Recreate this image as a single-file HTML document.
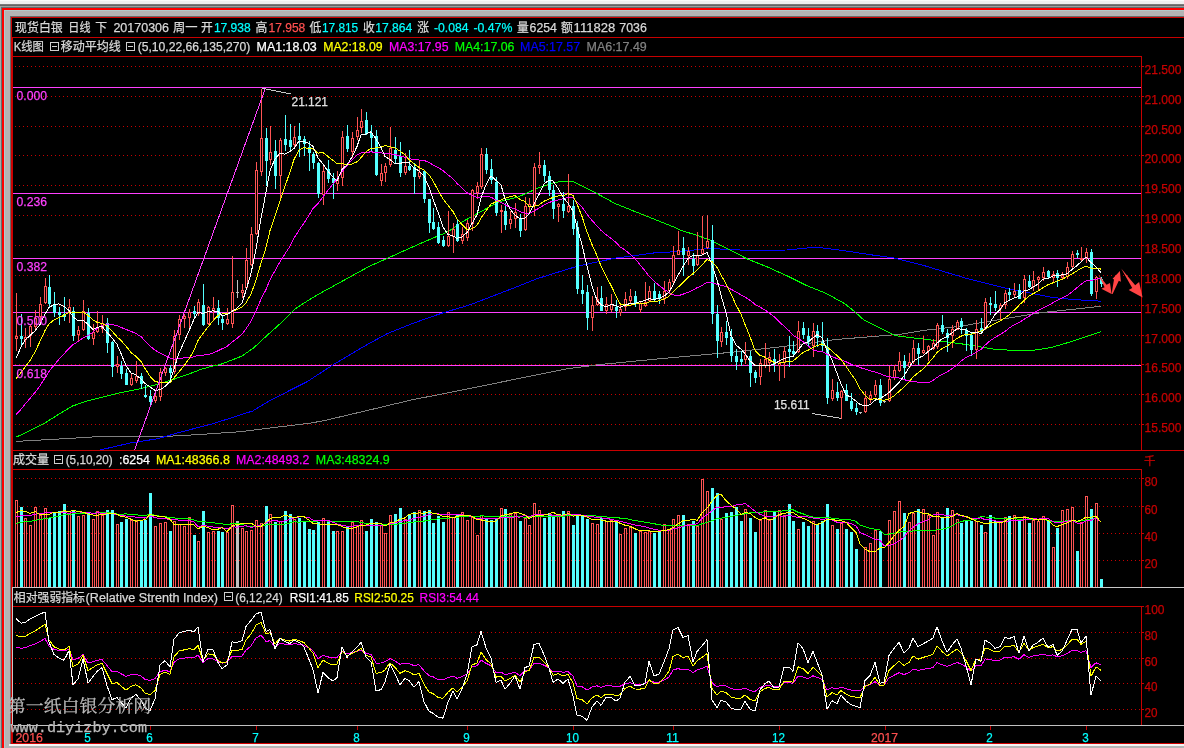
<!DOCTYPE html>
<html><head><meta charset="utf-8"><title>现货白银 日线</title>
<style>html,body{margin:0;padding:0;background:#000;width:1184px;height:748px;overflow:hidden}svg{display:block}</style>
</head><body>
<svg width="1184" height="748" viewBox="0 0 1184 748"><rect x="0" y="0" width="1184" height="748" fill="#000"/>
<rect x="0" y="0" width="1184" height="4" fill="#f0f0f0"/>
<rect x="0" y="0" width="1184" height="1" fill="#fafafa"/>
<rect x="0" y="4" width="1184" height="1" fill="#7a7a7a"/>
<rect x="0" y="5" width="1184" height="1" fill="#666666"/>
<rect x="0" y="6" width="1184" height="1" fill="#a0a0a0"/>
<rect x="0" y="7" width="1184" height="1" fill="#5e7070"/>
<rect x="0" y="8" width="1184" height="2" fill="#ff0000"/>
<rect x="0" y="10" width="1184" height="1" fill="#b2caca"/>
<rect x="0" y="11" width="1184" height="5" fill="#b4b4b4"/>
<rect x="0" y="16" width="1184" height="1" fill="#6a6a6a"/>
<rect x="0" y="17" width="1184" height="1" fill="#d00000"/>
<rect x="0" y="6" width="1" height="742" fill="#a8a8a8"/>
<rect x="1" y="7" width="1" height="741" fill="#5e7070"/>
<rect x="2" y="8" width="2" height="740" fill="#ff0000"/>
<rect x="4" y="10" width="1" height="738" fill="#b2caca"/>
<rect x="5" y="11" width="5" height="737" fill="#b4b4b4"/>
<rect x="10" y="16" width="1" height="732" fill="#6a6a6a"/>
<rect x="11" y="17" width="1" height="731" fill="#d00000"/>
<rect x="11" y="743" width="1173" height="1" fill="#d00000"/>
<rect x="9" y="744" width="1175" height="2" fill="#f4f4f4"/>
<rect x="9" y="746" width="1175" height="2" fill="#b4b4b4"/>
<rect x="12" y="37" width="1172" height="1" fill="#c80000"/>
<rect x="12" y="37" width="1" height="550" fill="#c80000"/>
<rect x="12" y="56" width="1130" height="1" fill="#c80000"/>
<rect x="12" y="450" width="1172" height="1" fill="#c80000"/>
<rect x="12" y="469" width="1130" height="1" fill="#c80000"/>
<rect x="1141" y="56" width="1" height="394" fill="#c80000"/>
<rect x="1141" y="469" width="1" height="118" fill="#c80000"/>
<rect x="12" y="587" width="1172" height="1" fill="#c8c8c8"/>
<rect x="12" y="587" width="1" height="138" fill="#c8c8c8"/>
<rect x="13" y="606" width="1129" height="1" fill="#c80000"/>
<rect x="1141" y="606" width="1" height="119" fill="#c80000"/>
<rect x="12" y="725" width="1172" height="1" fill="#c0c0c0"/>
<rect x="12" y="725" width="1" height="18" fill="#c80000"/>
<line x1="15" y1="66.5" x2="1141" y2="66.5" stroke="#c80000" stroke-width="1" stroke-dasharray="1 3"/>
<rect x="1142" y="66" width="2" height="1" fill="#c80000"/>
<text x="1144.5" y="73.5" fill="#c80000" stroke="#c80000" stroke-width="0.25" font-size="12.5" font-family="'Liberation Sans','Noto Sans CJK SC',sans-serif" textLength="37" lengthAdjust="spacingAndGlyphs">21.500</text>
<line x1="15" y1="96.5" x2="1141" y2="96.5" stroke="#c80000" stroke-width="1" stroke-dasharray="1 3"/>
<rect x="1142" y="96" width="2" height="1" fill="#c80000"/>
<text x="1144.5" y="103.5" fill="#c80000" stroke="#c80000" stroke-width="0.25" font-size="12.5" font-family="'Liberation Sans','Noto Sans CJK SC',sans-serif" textLength="37" lengthAdjust="spacingAndGlyphs">21.000</text>
<line x1="15" y1="126.5" x2="1141" y2="126.5" stroke="#c80000" stroke-width="1" stroke-dasharray="1 3"/>
<rect x="1142" y="126" width="2" height="1" fill="#c80000"/>
<text x="1144.5" y="133.5" fill="#c80000" stroke="#c80000" stroke-width="0.25" font-size="12.5" font-family="'Liberation Sans','Noto Sans CJK SC',sans-serif" textLength="37" lengthAdjust="spacingAndGlyphs">20.500</text>
<line x1="15" y1="155.5" x2="1141" y2="155.5" stroke="#c80000" stroke-width="1" stroke-dasharray="1 3"/>
<rect x="1142" y="155" width="2" height="1" fill="#c80000"/>
<text x="1144.5" y="162.5" fill="#c80000" stroke="#c80000" stroke-width="0.25" font-size="12.5" font-family="'Liberation Sans','Noto Sans CJK SC',sans-serif" textLength="37" lengthAdjust="spacingAndGlyphs">20.000</text>
<line x1="15" y1="185.5" x2="1141" y2="185.5" stroke="#c80000" stroke-width="1" stroke-dasharray="1 3"/>
<rect x="1142" y="185" width="2" height="1" fill="#c80000"/>
<text x="1144.5" y="192.5" fill="#c80000" stroke="#c80000" stroke-width="0.25" font-size="12.5" font-family="'Liberation Sans','Noto Sans CJK SC',sans-serif" textLength="37" lengthAdjust="spacingAndGlyphs">19.500</text>
<line x1="15" y1="215.5" x2="1141" y2="215.5" stroke="#c80000" stroke-width="1" stroke-dasharray="1 3"/>
<rect x="1142" y="215" width="2" height="1" fill="#c80000"/>
<text x="1144.5" y="222.5" fill="#c80000" stroke="#c80000" stroke-width="0.25" font-size="12.5" font-family="'Liberation Sans','Noto Sans CJK SC',sans-serif" textLength="37" lengthAdjust="spacingAndGlyphs">19.000</text>
<line x1="15" y1="245.5" x2="1141" y2="245.5" stroke="#c80000" stroke-width="1" stroke-dasharray="1 3"/>
<rect x="1142" y="245" width="2" height="1" fill="#c80000"/>
<text x="1144.5" y="252.5" fill="#c80000" stroke="#c80000" stroke-width="0.25" font-size="12.5" font-family="'Liberation Sans','Noto Sans CJK SC',sans-serif" textLength="37" lengthAdjust="spacingAndGlyphs">18.500</text>
<line x1="15" y1="275.5" x2="1141" y2="275.5" stroke="#c80000" stroke-width="1" stroke-dasharray="1 3"/>
<rect x="1142" y="275" width="2" height="1" fill="#c80000"/>
<text x="1144.5" y="282.5" fill="#c80000" stroke="#c80000" stroke-width="0.25" font-size="12.5" font-family="'Liberation Sans','Noto Sans CJK SC',sans-serif" textLength="37" lengthAdjust="spacingAndGlyphs">18.000</text>
<line x1="15" y1="305.5" x2="1141" y2="305.5" stroke="#c80000" stroke-width="1" stroke-dasharray="1 3"/>
<rect x="1142" y="305" width="2" height="1" fill="#c80000"/>
<text x="1144.5" y="312.5" fill="#c80000" stroke="#c80000" stroke-width="0.25" font-size="12.5" font-family="'Liberation Sans','Noto Sans CJK SC',sans-serif" textLength="37" lengthAdjust="spacingAndGlyphs">17.500</text>
<line x1="15" y1="335.5" x2="1141" y2="335.5" stroke="#c80000" stroke-width="1" stroke-dasharray="1 3"/>
<rect x="1142" y="335" width="2" height="1" fill="#c80000"/>
<text x="1144.5" y="342.5" fill="#c80000" stroke="#c80000" stroke-width="0.25" font-size="12.5" font-family="'Liberation Sans','Noto Sans CJK SC',sans-serif" textLength="37" lengthAdjust="spacingAndGlyphs">17.000</text>
<line x1="15" y1="364.5" x2="1141" y2="364.5" stroke="#c80000" stroke-width="1" stroke-dasharray="1 3"/>
<rect x="1142" y="364" width="2" height="1" fill="#c80000"/>
<text x="1144.5" y="371.5" fill="#c80000" stroke="#c80000" stroke-width="0.25" font-size="12.5" font-family="'Liberation Sans','Noto Sans CJK SC',sans-serif" textLength="37" lengthAdjust="spacingAndGlyphs">16.500</text>
<line x1="15" y1="394.5" x2="1141" y2="394.5" stroke="#c80000" stroke-width="1" stroke-dasharray="1 3"/>
<rect x="1142" y="394" width="2" height="1" fill="#c80000"/>
<text x="1144.5" y="401.5" fill="#c80000" stroke="#c80000" stroke-width="0.25" font-size="12.5" font-family="'Liberation Sans','Noto Sans CJK SC',sans-serif" textLength="37" lengthAdjust="spacingAndGlyphs">16.000</text>
<line x1="15" y1="424.5" x2="1141" y2="424.5" stroke="#c80000" stroke-width="1" stroke-dasharray="1 3"/>
<rect x="1142" y="424" width="2" height="1" fill="#c80000"/>
<text x="1144.5" y="431.5" fill="#c80000" stroke="#c80000" stroke-width="0.25" font-size="12.5" font-family="'Liberation Sans','Noto Sans CJK SC',sans-serif" textLength="37" lengthAdjust="spacingAndGlyphs">15.500</text>
<line x1="15" y1="478.5" x2="1141" y2="478.5" stroke="#c80000" stroke-width="1" stroke-dasharray="1 3"/>
<rect x="1142" y="478" width="2" height="1" fill="#c80000"/>
<text x="1144.5" y="485.5" fill="#c80000" stroke="#c80000" stroke-width="0.25" font-size="12.5" font-family="'Liberation Sans','Noto Sans CJK SC',sans-serif" textLength="13" lengthAdjust="spacingAndGlyphs">80</text>
<line x1="15" y1="506.5" x2="1141" y2="506.5" stroke="#c80000" stroke-width="1" stroke-dasharray="1 3"/>
<rect x="1142" y="506" width="2" height="1" fill="#c80000"/>
<text x="1144.5" y="513.5" fill="#c80000" stroke="#c80000" stroke-width="0.25" font-size="12.5" font-family="'Liberation Sans','Noto Sans CJK SC',sans-serif" textLength="13" lengthAdjust="spacingAndGlyphs">60</text>
<line x1="15" y1="533.5" x2="1141" y2="533.5" stroke="#c80000" stroke-width="1" stroke-dasharray="1 3"/>
<rect x="1142" y="533" width="2" height="1" fill="#c80000"/>
<text x="1144.5" y="540.5" fill="#c80000" stroke="#c80000" stroke-width="0.25" font-size="12.5" font-family="'Liberation Sans','Noto Sans CJK SC',sans-serif" textLength="13" lengthAdjust="spacingAndGlyphs">40</text>
<line x1="15" y1="560.5" x2="1141" y2="560.5" stroke="#c80000" stroke-width="1" stroke-dasharray="1 3"/>
<rect x="1142" y="560" width="2" height="1" fill="#c80000"/>
<text x="1144.5" y="567.5" fill="#c80000" stroke="#c80000" stroke-width="0.25" font-size="12.5" font-family="'Liberation Sans','Noto Sans CJK SC',sans-serif" textLength="13" lengthAdjust="spacingAndGlyphs">20</text>
<text x="1144" y="465" fill="#c80000" stroke="#c80000" stroke-width="0.25" font-size="11.5" font-family="'Noto Sans CJK SC','Liberation Sans',sans-serif">千</text>
<line x1="15" y1="632.5" x2="1141" y2="632.5" stroke="#c80000" stroke-width="1" stroke-dasharray="1 3"/>
<rect x="1142" y="632" width="2" height="1" fill="#c80000"/>
<text x="1144.5" y="639.5" fill="#c80000" stroke="#c80000" stroke-width="0.25" font-size="12.5" font-family="'Liberation Sans','Noto Sans CJK SC',sans-serif" textLength="13" lengthAdjust="spacingAndGlyphs">80</text>
<line x1="15" y1="658.5" x2="1141" y2="658.5" stroke="#c80000" stroke-width="1" stroke-dasharray="1 3"/>
<rect x="1142" y="658" width="2" height="1" fill="#c80000"/>
<text x="1144.5" y="665.5" fill="#c80000" stroke="#c80000" stroke-width="0.25" font-size="12.5" font-family="'Liberation Sans','Noto Sans CJK SC',sans-serif" textLength="13" lengthAdjust="spacingAndGlyphs">60</text>
<line x1="15" y1="683.5" x2="1141" y2="683.5" stroke="#c80000" stroke-width="1" stroke-dasharray="1 3"/>
<rect x="1142" y="683" width="2" height="1" fill="#c80000"/>
<text x="1144.5" y="690.5" fill="#c80000" stroke="#c80000" stroke-width="0.25" font-size="12.5" font-family="'Liberation Sans','Noto Sans CJK SC',sans-serif" textLength="13" lengthAdjust="spacingAndGlyphs">40</text>
<line x1="15" y1="709.5" x2="1141" y2="709.5" stroke="#c80000" stroke-width="1" stroke-dasharray="1 3"/>
<rect x="1142" y="709" width="2" height="1" fill="#c80000"/>
<text x="1144.5" y="716.5" fill="#c80000" stroke="#c80000" stroke-width="0.25" font-size="12.5" font-family="'Liberation Sans','Noto Sans CJK SC',sans-serif" textLength="13" lengthAdjust="spacingAndGlyphs">20</text>
<rect x="1142" y="606" width="2" height="1" fill="#c80000"/>
<text x="1144.5" y="613.5" fill="#c80000" stroke="#c80000" stroke-width="0.25" font-size="12.5" font-family="'Liberation Sans','Noto Sans CJK SC',sans-serif" textLength="20" lengthAdjust="spacingAndGlyphs">100</text>
<rect x="13" y="87" width="1128" height="1" fill="#ff40ff"/>
<rect x="13" y="193" width="1128" height="1" fill="#ff40ff"/>
<rect x="13" y="258" width="1128" height="1" fill="#ff40ff"/>
<rect x="13" y="312" width="1128" height="1" fill="#ff40ff"/>
<rect x="13" y="365" width="1128" height="1" fill="#ff40ff"/>
<g shape-rendering="crispEdges">
<polyline points="16.2,441.4 62.7,438.8 100.0,436.5 164.0,436.5 200.0,434.5 240.0,431.7 312.0,422.9 326.7,420.0 366.8,410.6 411.2,400.0 470.0,388.5 500.5,382.2 567.3,368.8 600.0,364.5 666.8,358.1 733.6,352.1 796.3,345.0 835.0,339.6 900.0,334.3 922.8,330.5 960.0,326.3 1000.0,319.5 1040.0,312.8 1101.0,306.3" fill="none" stroke="#808080" stroke-width="1"/>
<polyline points="99.8,450.0 130.2,443.0 157.3,438.8 180.9,432.0 212.0,424.0 252.7,411.0 270.8,400.0 306.9,381.8 333.7,364.4 360.4,348.4 387.1,333.7 413.8,323.0 440.6,313.6 470.0,304.8 508.6,290.0 537.7,278.5 576.6,266.4 615.4,258.1 654.3,252.9 680.0,251.4 709.1,248.5 747.8,250.4 786.6,250.0 815.7,247.1 844.8,250.8 873.8,255.2 893.2,257.8 922.8,265.2 944.2,271.7 965.6,278.1 987.0,283.4 1008.3,288.8 1029.7,293.0 1051.1,297.3 1072.5,299.5 1101.0,301.2" fill="none" stroke="#0000ff" stroke-width="1"/>
<polyline points="16.2,437.1 28.9,431.2 45.8,422.4 62.7,411.8 72.8,405.9 88.0,400.8 104.9,396.6 121.8,392.4 138.7,389.0 155.6,384.8 172.5,379.7 189.4,373.8 200.0,369.7 212.0,366.2 220.0,364.6 241.7,356.2 253.7,347.8 268.1,334.5 282.6,321.5 294.6,309.3 306.6,301.4 320.0,293.4 341.7,281.5 368.4,266.8 395.1,254.8 421.9,242.8 448.6,231.5 460.0,223.1 479.4,212.4 498.9,201.8 518.3,196.9 537.7,188.2 553.2,182.9 561.0,181.4 572.7,181.4 576.6,183.3 596.0,193.0 615.4,203.7 634.8,211.5 654.3,219.2 673.7,227.0 680.0,230.0 695.5,234.9 711.0,240.3 728.5,249.4 747.8,259.1 767.2,266.9 786.6,275.6 806.0,285.3 825.4,293.0 844.8,303.7 854.5,311.5 864.1,320.2 883.5,329.9 895.2,335.7 922.8,339.0 965.6,344.4 997.6,349.7 1029.7,350.8 1051.1,347.6 1072.5,341.2 1101.0,331.6" fill="none" stroke="#00ff00" stroke-width="1"/>
</g>
<g shape-rendering="crispEdges">
<rect x="16" y="293" width="1" height="43" fill="#ff5454"/>
<rect x="16" y="339" width="1" height="12" fill="#ff5454"/>
<rect x="15" y="336" width="3" height="3" fill="#ff5454"/>
<rect x="16" y="337" width="1" height="1" fill="#000"/>
<rect x="21" y="314" width="1" height="22" fill="#54ffff"/>
<rect x="21" y="339" width="1" height="6" fill="#54ffff"/>
<rect x="20" y="336" width="3" height="3" fill="#54ffff"/>
<rect x="25" y="328" width="1" height="9" fill="#ff5454"/>
<rect x="25" y="340" width="1" height="8" fill="#ff5454"/>
<rect x="24" y="337" width="3" height="3" fill="#ff5454"/>
<rect x="25" y="338" width="1" height="1" fill="#000"/>
<rect x="30" y="324" width="1" height="2" fill="#ff5454"/>
<rect x="30" y="336" width="1" height="11" fill="#ff5454"/>
<rect x="29" y="326" width="3" height="10" fill="#ff5454"/>
<rect x="30" y="327" width="1" height="8" fill="#000"/>
<rect x="35" y="310" width="1" height="8" fill="#ff5454"/>
<rect x="35" y="327" width="1" height="4" fill="#ff5454"/>
<rect x="34" y="318" width="3" height="9" fill="#ff5454"/>
<rect x="35" y="319" width="1" height="7" fill="#000"/>
<rect x="40" y="297" width="1" height="7" fill="#ff5454"/>
<rect x="40" y="317" width="1" height="7" fill="#ff5454"/>
<rect x="39" y="304" width="3" height="13" fill="#ff5454"/>
<rect x="40" y="305" width="1" height="11" fill="#000"/>
<rect x="45" y="278" width="1" height="8" fill="#ff5454"/>
<rect x="45" y="303" width="1" height="1" fill="#ff5454"/>
<rect x="44" y="286" width="3" height="17" fill="#ff5454"/>
<rect x="45" y="287" width="1" height="15" fill="#000"/>
<rect x="49" y="275" width="1" height="12" fill="#54ffff"/>
<rect x="49" y="304" width="1" height="3" fill="#54ffff"/>
<rect x="48" y="287" width="3" height="17" fill="#54ffff"/>
<rect x="54" y="292" width="1" height="12" fill="#54ffff"/>
<rect x="54" y="313" width="1" height="4" fill="#54ffff"/>
<rect x="53" y="304" width="3" height="9" fill="#54ffff"/>
<rect x="59" y="307" width="1" height="5" fill="#54ffff"/>
<rect x="59" y="315" width="1" height="10" fill="#54ffff"/>
<rect x="58" y="312" width="3" height="3" fill="#54ffff"/>
<rect x="64" y="297" width="1" height="17" fill="#54ffff"/>
<rect x="64" y="317" width="1" height="4" fill="#54ffff"/>
<rect x="63" y="314" width="3" height="3" fill="#54ffff"/>
<rect x="69" y="299" width="1" height="8" fill="#ff5454"/>
<rect x="69" y="313" width="1" height="10" fill="#ff5454"/>
<rect x="68" y="307" width="3" height="6" fill="#ff5454"/>
<rect x="69" y="308" width="1" height="4" fill="#000"/>
<rect x="73" y="307" width="1" height="4" fill="#54ffff"/>
<rect x="73" y="336" width="1" height="5" fill="#54ffff"/>
<rect x="72" y="311" width="3" height="25" fill="#54ffff"/>
<rect x="78" y="326" width="1" height="4" fill="#ff5454"/>
<rect x="78" y="335" width="1" height="7" fill="#ff5454"/>
<rect x="77" y="330" width="3" height="5" fill="#ff5454"/>
<rect x="78" y="331" width="1" height="3" fill="#000"/>
<rect x="83" y="300" width="1" height="11" fill="#ff5454"/>
<rect x="83" y="330" width="1" height="1" fill="#ff5454"/>
<rect x="82" y="311" width="3" height="19" fill="#ff5454"/>
<rect x="83" y="312" width="1" height="17" fill="#000"/>
<rect x="88" y="308" width="1" height="5" fill="#54ffff"/>
<rect x="88" y="339" width="1" height="1" fill="#54ffff"/>
<rect x="87" y="313" width="3" height="26" fill="#54ffff"/>
<rect x="93" y="324" width="1" height="8" fill="#ff5454"/>
<rect x="93" y="339" width="1" height="6" fill="#ff5454"/>
<rect x="92" y="332" width="3" height="7" fill="#ff5454"/>
<rect x="93" y="333" width="1" height="5" fill="#000"/>
<rect x="97" y="311" width="1" height="16" fill="#ff5454"/>
<rect x="97" y="332" width="1" height="1" fill="#ff5454"/>
<rect x="96" y="327" width="3" height="5" fill="#ff5454"/>
<rect x="97" y="328" width="1" height="3" fill="#000"/>
<rect x="102" y="315" width="1" height="8" fill="#ff5454"/>
<rect x="102" y="329" width="1" height="4" fill="#ff5454"/>
<rect x="101" y="323" width="3" height="6" fill="#ff5454"/>
<rect x="102" y="324" width="1" height="4" fill="#000"/>
<rect x="107" y="318" width="1" height="5" fill="#54ffff"/>
<rect x="107" y="343" width="1" height="10" fill="#54ffff"/>
<rect x="106" y="323" width="3" height="20" fill="#54ffff"/>
<rect x="112" y="341" width="1" height="1" fill="#54ffff"/>
<rect x="112" y="367" width="1" height="10" fill="#54ffff"/>
<rect x="111" y="342" width="3" height="25" fill="#54ffff"/>
<rect x="117" y="356" width="1" height="8" fill="#ff5454"/>
<rect x="117" y="367" width="1" height="6" fill="#ff5454"/>
<rect x="116" y="364" width="3" height="3" fill="#ff5454"/>
<rect x="117" y="365" width="1" height="1" fill="#000"/>
<rect x="121" y="361" width="1" height="5" fill="#54ffff"/>
<rect x="121" y="374" width="1" height="5" fill="#54ffff"/>
<rect x="120" y="366" width="3" height="8" fill="#54ffff"/>
<rect x="126" y="369" width="1" height="4" fill="#54ffff"/>
<rect x="125" y="373" width="3" height="12" fill="#54ffff"/>
<rect x="131" y="374" width="1" height="4" fill="#ff5454"/>
<rect x="131" y="385" width="1" height="1" fill="#ff5454"/>
<rect x="130" y="378" width="3" height="7" fill="#ff5454"/>
<rect x="131" y="379" width="1" height="5" fill="#000"/>
<rect x="136" y="361" width="1" height="15" fill="#ff5454"/>
<rect x="136" y="381" width="1" height="2" fill="#ff5454"/>
<rect x="135" y="376" width="3" height="5" fill="#ff5454"/>
<rect x="136" y="377" width="1" height="3" fill="#000"/>
<rect x="141" y="373" width="1" height="3" fill="#54ffff"/>
<rect x="141" y="384" width="1" height="5" fill="#54ffff"/>
<rect x="140" y="376" width="3" height="8" fill="#54ffff"/>
<rect x="145" y="385" width="1" height="10" fill="#54ffff"/>
<rect x="145" y="397" width="1" height="1" fill="#54ffff"/>
<rect x="144" y="395" width="3" height="2" fill="#54ffff"/>
<rect x="150" y="390" width="1" height="6" fill="#54ffff"/>
<rect x="150" y="402" width="1" height="4" fill="#54ffff"/>
<rect x="149" y="396" width="3" height="6" fill="#54ffff"/>
<rect x="155" y="394" width="1" height="2" fill="#ff5454"/>
<rect x="155" y="401" width="1" height="2" fill="#ff5454"/>
<rect x="154" y="396" width="3" height="5" fill="#ff5454"/>
<rect x="155" y="397" width="1" height="3" fill="#000"/>
<rect x="160" y="368" width="1" height="4" fill="#ff5454"/>
<rect x="160" y="397" width="1" height="4" fill="#ff5454"/>
<rect x="159" y="372" width="3" height="25" fill="#ff5454"/>
<rect x="160" y="373" width="1" height="23" fill="#000"/>
<rect x="165" y="367" width="1" height="1" fill="#ff5454"/>
<rect x="165" y="373" width="1" height="3" fill="#ff5454"/>
<rect x="164" y="368" width="3" height="5" fill="#ff5454"/>
<rect x="165" y="369" width="1" height="3" fill="#000"/>
<rect x="170" y="365" width="1" height="3" fill="#54ffff"/>
<rect x="170" y="373" width="1" height="9" fill="#54ffff"/>
<rect x="169" y="368" width="3" height="5" fill="#54ffff"/>
<rect x="174" y="330" width="1" height="6" fill="#ff5454"/>
<rect x="174" y="372" width="1" height="2" fill="#ff5454"/>
<rect x="173" y="336" width="3" height="36" fill="#ff5454"/>
<rect x="174" y="337" width="1" height="34" fill="#000"/>
<rect x="179" y="315" width="1" height="4" fill="#ff5454"/>
<rect x="179" y="335" width="1" height="5" fill="#ff5454"/>
<rect x="178" y="319" width="3" height="16" fill="#ff5454"/>
<rect x="179" y="320" width="1" height="14" fill="#000"/>
<rect x="184" y="314" width="1" height="2" fill="#ff5454"/>
<rect x="184" y="319" width="1" height="9" fill="#ff5454"/>
<rect x="183" y="316" width="3" height="3" fill="#ff5454"/>
<rect x="184" y="317" width="1" height="1" fill="#000"/>
<rect x="189" y="309" width="1" height="3" fill="#ff5454"/>
<rect x="189" y="318" width="1" height="10" fill="#ff5454"/>
<rect x="188" y="312" width="3" height="6" fill="#ff5454"/>
<rect x="189" y="313" width="1" height="4" fill="#000"/>
<rect x="194" y="306" width="1" height="5" fill="#54ffff"/>
<rect x="194" y="314" width="1" height="5" fill="#54ffff"/>
<rect x="193" y="311" width="3" height="3" fill="#54ffff"/>
<rect x="198" y="299" width="1" height="3" fill="#ff5454"/>
<rect x="198" y="314" width="1" height="2" fill="#ff5454"/>
<rect x="197" y="302" width="3" height="12" fill="#ff5454"/>
<rect x="198" y="303" width="1" height="10" fill="#000"/>
<rect x="203" y="284" width="1" height="21" fill="#54ffff"/>
<rect x="203" y="325" width="1" height="1" fill="#54ffff"/>
<rect x="202" y="305" width="3" height="20" fill="#54ffff"/>
<rect x="208" y="306" width="1" height="1" fill="#ff5454"/>
<rect x="208" y="324" width="1" height="1" fill="#ff5454"/>
<rect x="207" y="307" width="3" height="17" fill="#ff5454"/>
<rect x="208" y="308" width="1" height="15" fill="#000"/>
<rect x="213" y="297" width="1" height="11" fill="#ff5454"/>
<rect x="213" y="311" width="1" height="9" fill="#ff5454"/>
<rect x="212" y="308" width="3" height="3" fill="#ff5454"/>
<rect x="213" y="309" width="1" height="1" fill="#000"/>
<rect x="218" y="300" width="1" height="8" fill="#54ffff"/>
<rect x="218" y="318" width="1" height="7" fill="#54ffff"/>
<rect x="217" y="308" width="3" height="10" fill="#54ffff"/>
<rect x="222" y="315" width="1" height="4" fill="#54ffff"/>
<rect x="222" y="323" width="1" height="7" fill="#54ffff"/>
<rect x="221" y="319" width="3" height="4" fill="#54ffff"/>
<rect x="227" y="308" width="1" height="11" fill="#ff5454"/>
<rect x="227" y="324" width="1" height="1" fill="#ff5454"/>
<rect x="226" y="319" width="3" height="5" fill="#ff5454"/>
<rect x="227" y="320" width="1" height="3" fill="#000"/>
<rect x="232" y="256" width="1" height="36" fill="#ff5454"/>
<rect x="232" y="324" width="1" height="4" fill="#ff5454"/>
<rect x="231" y="292" width="3" height="32" fill="#ff5454"/>
<rect x="232" y="293" width="1" height="30" fill="#000"/>
<rect x="237" y="280" width="1" height="12" fill="#c0c0c0"/>
<rect x="237" y="293" width="1" height="5" fill="#c0c0c0"/>
<rect x="236" y="292" width="3" height="1" fill="#c0c0c0"/>
<rect x="237" y="280" width="1" height="18" fill="#c0c0c0"/>
<rect x="242" y="284" width="1" height="6" fill="#ff5454"/>
<rect x="242" y="293" width="1" height="5" fill="#ff5454"/>
<rect x="241" y="290" width="3" height="3" fill="#ff5454"/>
<rect x="242" y="291" width="1" height="1" fill="#000"/>
<rect x="246" y="248" width="1" height="12" fill="#ff5454"/>
<rect x="246" y="288" width="1" height="1" fill="#ff5454"/>
<rect x="245" y="260" width="3" height="28" fill="#ff5454"/>
<rect x="246" y="261" width="1" height="26" fill="#000"/>
<rect x="251" y="227" width="1" height="7" fill="#ff5454"/>
<rect x="251" y="265" width="1" height="1" fill="#ff5454"/>
<rect x="250" y="234" width="3" height="31" fill="#ff5454"/>
<rect x="251" y="235" width="1" height="29" fill="#000"/>
<rect x="256" y="162" width="1" height="8" fill="#ff5454"/>
<rect x="256" y="234" width="1" height="1" fill="#ff5454"/>
<rect x="255" y="170" width="3" height="64" fill="#ff5454"/>
<rect x="256" y="171" width="1" height="62" fill="#000"/>
<rect x="261" y="89" width="1" height="49" fill="#ff5454"/>
<rect x="261" y="172" width="1" height="4" fill="#ff5454"/>
<rect x="260" y="138" width="3" height="34" fill="#ff5454"/>
<rect x="261" y="139" width="1" height="32" fill="#000"/>
<rect x="266" y="128" width="1" height="10" fill="#54ffff"/>
<rect x="266" y="161" width="1" height="25" fill="#54ffff"/>
<rect x="265" y="138" width="3" height="23" fill="#54ffff"/>
<rect x="270" y="126" width="1" height="26" fill="#ff5454"/>
<rect x="270" y="160" width="1" height="5" fill="#ff5454"/>
<rect x="269" y="152" width="3" height="8" fill="#ff5454"/>
<rect x="270" y="153" width="1" height="6" fill="#000"/>
<rect x="275" y="140" width="1" height="11" fill="#54ffff"/>
<rect x="275" y="176" width="1" height="13" fill="#54ffff"/>
<rect x="274" y="151" width="3" height="25" fill="#54ffff"/>
<rect x="280" y="138" width="1" height="2" fill="#ff5454"/>
<rect x="280" y="176" width="1" height="25" fill="#ff5454"/>
<rect x="279" y="140" width="3" height="36" fill="#ff5454"/>
<rect x="280" y="141" width="1" height="34" fill="#000"/>
<rect x="285" y="115" width="1" height="24" fill="#54ffff"/>
<rect x="285" y="145" width="1" height="6" fill="#54ffff"/>
<rect x="284" y="139" width="3" height="6" fill="#54ffff"/>
<rect x="290" y="124" width="1" height="16" fill="#54ffff"/>
<rect x="290" y="147" width="1" height="5" fill="#54ffff"/>
<rect x="289" y="140" width="3" height="7" fill="#54ffff"/>
<rect x="294" y="126" width="1" height="11" fill="#ff5454"/>
<rect x="294" y="145" width="1" height="4" fill="#ff5454"/>
<rect x="293" y="137" width="3" height="8" fill="#ff5454"/>
<rect x="294" y="138" width="1" height="6" fill="#000"/>
<rect x="299" y="123" width="1" height="13" fill="#54ffff"/>
<rect x="299" y="140" width="1" height="17" fill="#54ffff"/>
<rect x="298" y="136" width="3" height="4" fill="#54ffff"/>
<rect x="304" y="136" width="1" height="3" fill="#54ffff"/>
<rect x="304" y="144" width="1" height="12" fill="#54ffff"/>
<rect x="303" y="139" width="3" height="5" fill="#54ffff"/>
<rect x="309" y="141" width="1" height="6" fill="#54ffff"/>
<rect x="309" y="153" width="1" height="18" fill="#54ffff"/>
<rect x="308" y="147" width="3" height="6" fill="#54ffff"/>
<rect x="313" y="152" width="1" height="2" fill="#54ffff"/>
<rect x="313" y="163" width="1" height="6" fill="#54ffff"/>
<rect x="312" y="154" width="3" height="9" fill="#54ffff"/>
<rect x="318" y="162" width="1" height="1" fill="#54ffff"/>
<rect x="318" y="194" width="1" height="4" fill="#54ffff"/>
<rect x="317" y="163" width="3" height="31" fill="#54ffff"/>
<rect x="323" y="165" width="1" height="6" fill="#ff5454"/>
<rect x="323" y="195" width="1" height="10" fill="#ff5454"/>
<rect x="322" y="171" width="3" height="24" fill="#ff5454"/>
<rect x="323" y="172" width="1" height="22" fill="#000"/>
<rect x="328" y="160" width="1" height="9" fill="#54ffff"/>
<rect x="328" y="179" width="1" height="4" fill="#54ffff"/>
<rect x="327" y="169" width="3" height="10" fill="#54ffff"/>
<rect x="333" y="173" width="1" height="5" fill="#54ffff"/>
<rect x="333" y="183" width="1" height="16" fill="#54ffff"/>
<rect x="332" y="178" width="3" height="5" fill="#54ffff"/>
<rect x="337" y="171" width="1" height="8" fill="#ff5454"/>
<rect x="337" y="184" width="1" height="7" fill="#ff5454"/>
<rect x="336" y="179" width="3" height="5" fill="#ff5454"/>
<rect x="337" y="180" width="1" height="3" fill="#000"/>
<rect x="342" y="131" width="1" height="6" fill="#ff5454"/>
<rect x="342" y="178" width="1" height="8" fill="#ff5454"/>
<rect x="341" y="137" width="3" height="41" fill="#ff5454"/>
<rect x="342" y="138" width="1" height="39" fill="#000"/>
<rect x="347" y="125" width="1" height="11" fill="#54ffff"/>
<rect x="347" y="149" width="1" height="3" fill="#54ffff"/>
<rect x="346" y="136" width="3" height="13" fill="#54ffff"/>
<rect x="352" y="132" width="1" height="6" fill="#ff5454"/>
<rect x="352" y="152" width="1" height="6" fill="#ff5454"/>
<rect x="351" y="138" width="3" height="14" fill="#ff5454"/>
<rect x="352" y="139" width="1" height="12" fill="#000"/>
<rect x="357" y="117" width="1" height="13" fill="#ff5454"/>
<rect x="357" y="137" width="1" height="3" fill="#ff5454"/>
<rect x="356" y="130" width="3" height="7" fill="#ff5454"/>
<rect x="357" y="131" width="1" height="5" fill="#000"/>
<rect x="361" y="109" width="1" height="12" fill="#ff5454"/>
<rect x="361" y="128" width="1" height="5" fill="#ff5454"/>
<rect x="360" y="121" width="3" height="7" fill="#ff5454"/>
<rect x="361" y="122" width="1" height="5" fill="#000"/>
<rect x="366" y="112" width="1" height="8" fill="#54ffff"/>
<rect x="366" y="134" width="1" height="1" fill="#54ffff"/>
<rect x="365" y="120" width="3" height="14" fill="#54ffff"/>
<rect x="371" y="125" width="1" height="8" fill="#54ffff"/>
<rect x="371" y="138" width="1" height="13" fill="#54ffff"/>
<rect x="370" y="133" width="3" height="5" fill="#54ffff"/>
<rect x="376" y="130" width="1" height="6" fill="#54ffff"/>
<rect x="376" y="175" width="1" height="1" fill="#54ffff"/>
<rect x="375" y="136" width="3" height="39" fill="#54ffff"/>
<rect x="381" y="164" width="1" height="9" fill="#ff5454"/>
<rect x="381" y="181" width="1" height="5" fill="#ff5454"/>
<rect x="380" y="173" width="3" height="8" fill="#ff5454"/>
<rect x="381" y="174" width="1" height="6" fill="#000"/>
<rect x="385" y="163" width="1" height="3" fill="#ff5454"/>
<rect x="385" y="173" width="1" height="9" fill="#ff5454"/>
<rect x="384" y="166" width="3" height="7" fill="#ff5454"/>
<rect x="385" y="167" width="1" height="5" fill="#000"/>
<rect x="390" y="127" width="1" height="21" fill="#ff5454"/>
<rect x="390" y="165" width="1" height="2" fill="#ff5454"/>
<rect x="389" y="148" width="3" height="17" fill="#ff5454"/>
<rect x="390" y="149" width="1" height="15" fill="#000"/>
<rect x="395" y="137" width="1" height="13" fill="#54ffff"/>
<rect x="395" y="159" width="1" height="5" fill="#54ffff"/>
<rect x="394" y="150" width="3" height="9" fill="#54ffff"/>
<rect x="400" y="142" width="1" height="14" fill="#54ffff"/>
<rect x="400" y="173" width="1" height="4" fill="#54ffff"/>
<rect x="399" y="156" width="3" height="17" fill="#54ffff"/>
<rect x="405" y="153" width="1" height="13" fill="#ff5454"/>
<rect x="405" y="173" width="1" height="2" fill="#ff5454"/>
<rect x="404" y="166" width="3" height="7" fill="#ff5454"/>
<rect x="405" y="167" width="1" height="5" fill="#000"/>
<rect x="409" y="150" width="1" height="16" fill="#54ffff"/>
<rect x="409" y="170" width="1" height="1" fill="#54ffff"/>
<rect x="408" y="166" width="3" height="4" fill="#54ffff"/>
<rect x="414" y="163" width="1" height="4" fill="#54ffff"/>
<rect x="414" y="177" width="1" height="17" fill="#54ffff"/>
<rect x="413" y="167" width="3" height="10" fill="#54ffff"/>
<rect x="419" y="161" width="1" height="11" fill="#ff5454"/>
<rect x="419" y="177" width="1" height="2" fill="#ff5454"/>
<rect x="418" y="172" width="3" height="5" fill="#ff5454"/>
<rect x="419" y="173" width="1" height="3" fill="#000"/>
<rect x="424" y="170" width="1" height="1" fill="#54ffff"/>
<rect x="424" y="199" width="1" height="4" fill="#54ffff"/>
<rect x="423" y="171" width="3" height="28" fill="#54ffff"/>
<rect x="429" y="223" width="1" height="10" fill="#54ffff"/>
<rect x="428" y="199" width="3" height="24" fill="#54ffff"/>
<rect x="433" y="208" width="1" height="14" fill="#54ffff"/>
<rect x="433" y="229" width="1" height="1" fill="#54ffff"/>
<rect x="432" y="222" width="3" height="7" fill="#54ffff"/>
<rect x="438" y="222" width="1" height="5" fill="#54ffff"/>
<rect x="438" y="243" width="1" height="1" fill="#54ffff"/>
<rect x="437" y="227" width="3" height="16" fill="#54ffff"/>
<rect x="443" y="236" width="1" height="4" fill="#54ffff"/>
<rect x="443" y="246" width="1" height="1" fill="#54ffff"/>
<rect x="442" y="240" width="3" height="6" fill="#54ffff"/>
<rect x="448" y="211" width="1" height="25" fill="#ff5454"/>
<rect x="448" y="246" width="1" height="1" fill="#ff5454"/>
<rect x="447" y="236" width="3" height="10" fill="#ff5454"/>
<rect x="448" y="237" width="1" height="8" fill="#000"/>
<rect x="453" y="223" width="1" height="6" fill="#ff5454"/>
<rect x="453" y="237" width="1" height="16" fill="#ff5454"/>
<rect x="452" y="229" width="3" height="8" fill="#ff5454"/>
<rect x="453" y="230" width="1" height="6" fill="#000"/>
<rect x="457" y="219" width="1" height="5" fill="#54ffff"/>
<rect x="457" y="241" width="1" height="1" fill="#54ffff"/>
<rect x="456" y="224" width="3" height="17" fill="#54ffff"/>
<rect x="462" y="227" width="1" height="7" fill="#ff5454"/>
<rect x="462" y="241" width="1" height="3" fill="#ff5454"/>
<rect x="461" y="234" width="3" height="7" fill="#ff5454"/>
<rect x="462" y="235" width="1" height="5" fill="#000"/>
<rect x="467" y="220" width="1" height="3" fill="#ff5454"/>
<rect x="467" y="238" width="1" height="3" fill="#ff5454"/>
<rect x="466" y="223" width="3" height="15" fill="#ff5454"/>
<rect x="467" y="224" width="1" height="13" fill="#000"/>
<rect x="472" y="189" width="1" height="1" fill="#ff5454"/>
<rect x="472" y="224" width="1" height="7" fill="#ff5454"/>
<rect x="471" y="190" width="3" height="34" fill="#ff5454"/>
<rect x="472" y="191" width="1" height="32" fill="#000"/>
<rect x="477" y="182" width="1" height="4" fill="#ff5454"/>
<rect x="477" y="193" width="1" height="6" fill="#ff5454"/>
<rect x="476" y="186" width="3" height="7" fill="#ff5454"/>
<rect x="477" y="187" width="1" height="5" fill="#000"/>
<rect x="481" y="148" width="1" height="6" fill="#ff5454"/>
<rect x="481" y="187" width="1" height="2" fill="#ff5454"/>
<rect x="480" y="154" width="3" height="33" fill="#ff5454"/>
<rect x="481" y="155" width="1" height="31" fill="#000"/>
<rect x="486" y="148" width="1" height="6" fill="#54ffff"/>
<rect x="486" y="170" width="1" height="4" fill="#54ffff"/>
<rect x="485" y="154" width="3" height="16" fill="#54ffff"/>
<rect x="491" y="159" width="1" height="10" fill="#54ffff"/>
<rect x="491" y="180" width="1" height="4" fill="#54ffff"/>
<rect x="490" y="169" width="3" height="11" fill="#54ffff"/>
<rect x="496" y="177" width="1" height="5" fill="#54ffff"/>
<rect x="496" y="213" width="1" height="3" fill="#54ffff"/>
<rect x="495" y="182" width="3" height="31" fill="#54ffff"/>
<rect x="501" y="205" width="1" height="5" fill="#ff5454"/>
<rect x="501" y="212" width="1" height="21" fill="#ff5454"/>
<rect x="500" y="210" width="3" height="2" fill="#ff5454"/>
<rect x="505" y="203" width="1" height="8" fill="#54ffff"/>
<rect x="505" y="225" width="1" height="5" fill="#54ffff"/>
<rect x="504" y="211" width="3" height="14" fill="#54ffff"/>
<rect x="510" y="211" width="1" height="8" fill="#ff5454"/>
<rect x="510" y="224" width="1" height="5" fill="#ff5454"/>
<rect x="509" y="219" width="3" height="5" fill="#ff5454"/>
<rect x="510" y="220" width="1" height="3" fill="#000"/>
<rect x="515" y="203" width="1" height="9" fill="#ff5454"/>
<rect x="515" y="219" width="1" height="9" fill="#ff5454"/>
<rect x="514" y="212" width="3" height="7" fill="#ff5454"/>
<rect x="515" y="213" width="1" height="5" fill="#000"/>
<rect x="520" y="214" width="1" height="4" fill="#54ffff"/>
<rect x="520" y="231" width="1" height="6" fill="#54ffff"/>
<rect x="519" y="218" width="3" height="13" fill="#54ffff"/>
<rect x="525" y="197" width="1" height="9" fill="#ff5454"/>
<rect x="525" y="230" width="1" height="1" fill="#ff5454"/>
<rect x="524" y="206" width="3" height="24" fill="#ff5454"/>
<rect x="525" y="207" width="1" height="22" fill="#000"/>
<rect x="529" y="198" width="1" height="6" fill="#ff5454"/>
<rect x="529" y="207" width="1" height="6" fill="#ff5454"/>
<rect x="528" y="204" width="3" height="3" fill="#ff5454"/>
<rect x="529" y="205" width="1" height="1" fill="#000"/>
<rect x="534" y="163" width="1" height="4" fill="#ff5454"/>
<rect x="534" y="205" width="1" height="11" fill="#ff5454"/>
<rect x="533" y="167" width="3" height="38" fill="#ff5454"/>
<rect x="534" y="168" width="1" height="36" fill="#000"/>
<rect x="539" y="152" width="1" height="13" fill="#ff5454"/>
<rect x="539" y="168" width="1" height="6" fill="#ff5454"/>
<rect x="538" y="165" width="3" height="3" fill="#ff5454"/>
<rect x="539" y="166" width="1" height="1" fill="#000"/>
<rect x="544" y="160" width="1" height="5" fill="#54ffff"/>
<rect x="544" y="176" width="1" height="6" fill="#54ffff"/>
<rect x="543" y="165" width="3" height="11" fill="#54ffff"/>
<rect x="549" y="171" width="1" height="5" fill="#54ffff"/>
<rect x="549" y="190" width="1" height="6" fill="#54ffff"/>
<rect x="548" y="176" width="3" height="14" fill="#54ffff"/>
<rect x="553" y="185" width="1" height="5" fill="#54ffff"/>
<rect x="553" y="209" width="1" height="10" fill="#54ffff"/>
<rect x="552" y="190" width="3" height="19" fill="#54ffff"/>
<rect x="558" y="203" width="1" height="1" fill="#ff5454"/>
<rect x="558" y="207" width="1" height="15" fill="#ff5454"/>
<rect x="557" y="204" width="3" height="3" fill="#ff5454"/>
<rect x="558" y="205" width="1" height="1" fill="#000"/>
<rect x="563" y="192" width="1" height="12" fill="#54ffff"/>
<rect x="563" y="211" width="1" height="7" fill="#54ffff"/>
<rect x="562" y="204" width="3" height="7" fill="#54ffff"/>
<rect x="568" y="174" width="1" height="32" fill="#ff5454"/>
<rect x="568" y="212" width="1" height="1" fill="#ff5454"/>
<rect x="567" y="206" width="3" height="6" fill="#ff5454"/>
<rect x="568" y="207" width="1" height="4" fill="#000"/>
<rect x="573" y="200" width="1" height="6" fill="#54ffff"/>
<rect x="573" y="229" width="1" height="6" fill="#54ffff"/>
<rect x="572" y="206" width="3" height="23" fill="#54ffff"/>
<rect x="577" y="221" width="1" height="6" fill="#54ffff"/>
<rect x="577" y="289" width="1" height="5" fill="#54ffff"/>
<rect x="576" y="227" width="3" height="62" fill="#54ffff"/>
<rect x="582" y="275" width="1" height="15" fill="#54ffff"/>
<rect x="582" y="294" width="1" height="10" fill="#54ffff"/>
<rect x="581" y="290" width="3" height="4" fill="#54ffff"/>
<rect x="587" y="285" width="1" height="7" fill="#54ffff"/>
<rect x="587" y="318" width="1" height="12" fill="#54ffff"/>
<rect x="586" y="292" width="3" height="26" fill="#54ffff"/>
<rect x="592" y="296" width="1" height="9" fill="#ff5454"/>
<rect x="592" y="318" width="1" height="13" fill="#ff5454"/>
<rect x="591" y="305" width="3" height="13" fill="#ff5454"/>
<rect x="592" y="306" width="1" height="11" fill="#000"/>
<rect x="597" y="287" width="1" height="12" fill="#ff5454"/>
<rect x="597" y="305" width="1" height="1" fill="#ff5454"/>
<rect x="596" y="299" width="3" height="6" fill="#ff5454"/>
<rect x="597" y="300" width="1" height="4" fill="#000"/>
<rect x="601" y="286" width="1" height="12" fill="#54ffff"/>
<rect x="600" y="298" width="3" height="13" fill="#54ffff"/>
<rect x="606" y="297" width="1" height="7" fill="#ff5454"/>
<rect x="606" y="311" width="1" height="3" fill="#ff5454"/>
<rect x="605" y="304" width="3" height="7" fill="#ff5454"/>
<rect x="606" y="305" width="1" height="5" fill="#000"/>
<rect x="611" y="294" width="1" height="10" fill="#ff5454"/>
<rect x="611" y="310" width="1" height="2" fill="#ff5454"/>
<rect x="610" y="304" width="3" height="6" fill="#ff5454"/>
<rect x="611" y="305" width="1" height="4" fill="#000"/>
<rect x="616" y="300" width="1" height="7" fill="#54ffff"/>
<rect x="616" y="311" width="1" height="7" fill="#54ffff"/>
<rect x="615" y="307" width="3" height="4" fill="#54ffff"/>
<rect x="620" y="305" width="1" height="4" fill="#ff5454"/>
<rect x="620" y="313" width="1" height="3" fill="#ff5454"/>
<rect x="619" y="309" width="3" height="4" fill="#ff5454"/>
<rect x="620" y="310" width="1" height="2" fill="#000"/>
<rect x="625" y="292" width="1" height="7" fill="#ff5454"/>
<rect x="625" y="307" width="1" height="4" fill="#ff5454"/>
<rect x="624" y="299" width="3" height="8" fill="#ff5454"/>
<rect x="625" y="300" width="1" height="6" fill="#000"/>
<rect x="630" y="289" width="1" height="7" fill="#ff5454"/>
<rect x="630" y="301" width="1" height="2" fill="#ff5454"/>
<rect x="629" y="296" width="3" height="5" fill="#ff5454"/>
<rect x="630" y="297" width="1" height="3" fill="#000"/>
<rect x="635" y="291" width="1" height="5" fill="#54ffff"/>
<rect x="635" y="304" width="1" height="3" fill="#54ffff"/>
<rect x="634" y="296" width="3" height="8" fill="#54ffff"/>
<rect x="640" y="301" width="1" height="2" fill="#ff5454"/>
<rect x="640" y="310" width="1" height="3" fill="#ff5454"/>
<rect x="639" y="303" width="3" height="7" fill="#ff5454"/>
<rect x="640" y="304" width="1" height="5" fill="#000"/>
<rect x="645" y="282" width="1" height="20" fill="#ff5454"/>
<rect x="645" y="306" width="1" height="1" fill="#ff5454"/>
<rect x="644" y="302" width="3" height="4" fill="#ff5454"/>
<rect x="645" y="303" width="1" height="2" fill="#000"/>
<rect x="649" y="286" width="1" height="5" fill="#ff5454"/>
<rect x="648" y="291" width="3" height="10" fill="#ff5454"/>
<rect x="649" y="292" width="1" height="8" fill="#000"/>
<rect x="654" y="283" width="1" height="8" fill="#54ffff"/>
<rect x="654" y="300" width="1" height="1" fill="#54ffff"/>
<rect x="653" y="291" width="3" height="9" fill="#54ffff"/>
<rect x="659" y="291" width="1" height="3" fill="#54ffff"/>
<rect x="659" y="299" width="1" height="5" fill="#54ffff"/>
<rect x="658" y="294" width="3" height="5" fill="#54ffff"/>
<rect x="664" y="281" width="1" height="10" fill="#ff5454"/>
<rect x="664" y="299" width="1" height="5" fill="#ff5454"/>
<rect x="663" y="291" width="3" height="8" fill="#ff5454"/>
<rect x="664" y="292" width="1" height="6" fill="#000"/>
<rect x="669" y="279" width="1" height="3" fill="#ff5454"/>
<rect x="669" y="291" width="1" height="3" fill="#ff5454"/>
<rect x="668" y="282" width="3" height="9" fill="#ff5454"/>
<rect x="669" y="283" width="1" height="7" fill="#000"/>
<rect x="673" y="246" width="1" height="9" fill="#ff5454"/>
<rect x="673" y="282" width="1" height="1" fill="#ff5454"/>
<rect x="672" y="255" width="3" height="27" fill="#ff5454"/>
<rect x="673" y="256" width="1" height="25" fill="#000"/>
<rect x="678" y="231" width="1" height="19" fill="#ff5454"/>
<rect x="677" y="250" width="3" height="5" fill="#ff5454"/>
<rect x="678" y="251" width="1" height="3" fill="#000"/>
<rect x="683" y="237" width="1" height="11" fill="#54ffff"/>
<rect x="683" y="255" width="1" height="21" fill="#54ffff"/>
<rect x="682" y="248" width="3" height="7" fill="#54ffff"/>
<rect x="688" y="247" width="1" height="4" fill="#ff5454"/>
<rect x="688" y="256" width="1" height="9" fill="#ff5454"/>
<rect x="687" y="251" width="3" height="5" fill="#ff5454"/>
<rect x="688" y="252" width="1" height="3" fill="#000"/>
<rect x="693" y="253" width="1" height="6" fill="#54ffff"/>
<rect x="693" y="266" width="1" height="9" fill="#54ffff"/>
<rect x="692" y="259" width="3" height="7" fill="#54ffff"/>
<rect x="697" y="232" width="1" height="23" fill="#ff5454"/>
<rect x="697" y="265" width="1" height="1" fill="#ff5454"/>
<rect x="696" y="255" width="3" height="10" fill="#ff5454"/>
<rect x="697" y="256" width="1" height="8" fill="#000"/>
<rect x="702" y="216" width="1" height="33" fill="#ff5454"/>
<rect x="702" y="254" width="1" height="1" fill="#ff5454"/>
<rect x="701" y="249" width="3" height="5" fill="#ff5454"/>
<rect x="702" y="250" width="1" height="3" fill="#000"/>
<rect x="707" y="215" width="1" height="26" fill="#ff5454"/>
<rect x="707" y="248" width="1" height="1" fill="#ff5454"/>
<rect x="706" y="241" width="3" height="7" fill="#ff5454"/>
<rect x="707" y="242" width="1" height="5" fill="#000"/>
<rect x="712" y="225" width="1" height="15" fill="#54ffff"/>
<rect x="712" y="314" width="1" height="10" fill="#54ffff"/>
<rect x="711" y="240" width="3" height="74" fill="#54ffff"/>
<rect x="717" y="305" width="1" height="9" fill="#54ffff"/>
<rect x="717" y="341" width="1" height="17" fill="#54ffff"/>
<rect x="716" y="314" width="3" height="27" fill="#54ffff"/>
<rect x="721" y="327" width="1" height="5" fill="#ff5454"/>
<rect x="721" y="342" width="1" height="5" fill="#ff5454"/>
<rect x="720" y="332" width="3" height="10" fill="#ff5454"/>
<rect x="721" y="333" width="1" height="8" fill="#000"/>
<rect x="726" y="321" width="1" height="11" fill="#54ffff"/>
<rect x="726" y="338" width="1" height="7" fill="#54ffff"/>
<rect x="725" y="332" width="3" height="6" fill="#54ffff"/>
<rect x="731" y="329" width="1" height="8" fill="#54ffff"/>
<rect x="731" y="356" width="1" height="6" fill="#54ffff"/>
<rect x="730" y="337" width="3" height="19" fill="#54ffff"/>
<rect x="736" y="349" width="1" height="7" fill="#54ffff"/>
<rect x="736" y="362" width="1" height="8" fill="#54ffff"/>
<rect x="735" y="356" width="3" height="6" fill="#54ffff"/>
<rect x="741" y="351" width="1" height="8" fill="#54ffff"/>
<rect x="741" y="362" width="1" height="4" fill="#54ffff"/>
<rect x="740" y="359" width="3" height="3" fill="#54ffff"/>
<rect x="745" y="342" width="1" height="13" fill="#ff5454"/>
<rect x="745" y="360" width="1" height="4" fill="#ff5454"/>
<rect x="744" y="355" width="3" height="5" fill="#ff5454"/>
<rect x="745" y="356" width="1" height="3" fill="#000"/>
<rect x="750" y="351" width="1" height="5" fill="#54ffff"/>
<rect x="750" y="373" width="1" height="14" fill="#54ffff"/>
<rect x="749" y="356" width="3" height="17" fill="#54ffff"/>
<rect x="755" y="370" width="1" height="2" fill="#54ffff"/>
<rect x="755" y="378" width="1" height="5" fill="#54ffff"/>
<rect x="754" y="372" width="3" height="6" fill="#54ffff"/>
<rect x="760" y="359" width="1" height="4" fill="#ff5454"/>
<rect x="760" y="377" width="1" height="8" fill="#ff5454"/>
<rect x="759" y="363" width="3" height="14" fill="#ff5454"/>
<rect x="760" y="364" width="1" height="12" fill="#000"/>
<rect x="765" y="343" width="1" height="16" fill="#ff5454"/>
<rect x="765" y="366" width="1" height="2" fill="#ff5454"/>
<rect x="764" y="359" width="3" height="7" fill="#ff5454"/>
<rect x="765" y="360" width="1" height="5" fill="#000"/>
<rect x="769" y="352" width="1" height="5" fill="#ff5454"/>
<rect x="769" y="363" width="1" height="9" fill="#ff5454"/>
<rect x="768" y="357" width="3" height="6" fill="#ff5454"/>
<rect x="769" y="358" width="1" height="4" fill="#000"/>
<rect x="774" y="349" width="1" height="10" fill="#54ffff"/>
<rect x="774" y="364" width="1" height="8" fill="#54ffff"/>
<rect x="773" y="359" width="3" height="5" fill="#54ffff"/>
<rect x="779" y="354" width="1" height="9" fill="#ff5454"/>
<rect x="779" y="366" width="1" height="15" fill="#ff5454"/>
<rect x="778" y="363" width="3" height="3" fill="#ff5454"/>
<rect x="779" y="364" width="1" height="1" fill="#000"/>
<rect x="784" y="347" width="1" height="4" fill="#ff5454"/>
<rect x="784" y="363" width="1" height="15" fill="#ff5454"/>
<rect x="783" y="351" width="3" height="12" fill="#ff5454"/>
<rect x="784" y="352" width="1" height="10" fill="#000"/>
<rect x="789" y="336" width="1" height="13" fill="#54ffff"/>
<rect x="789" y="352" width="1" height="15" fill="#54ffff"/>
<rect x="788" y="349" width="3" height="3" fill="#54ffff"/>
<rect x="793" y="341" width="1" height="10" fill="#54ffff"/>
<rect x="793" y="354" width="1" height="2" fill="#54ffff"/>
<rect x="792" y="351" width="3" height="3" fill="#54ffff"/>
<rect x="798" y="321" width="1" height="10" fill="#ff5454"/>
<rect x="798" y="352" width="1" height="1" fill="#ff5454"/>
<rect x="797" y="331" width="3" height="21" fill="#ff5454"/>
<rect x="798" y="332" width="1" height="19" fill="#000"/>
<rect x="803" y="322" width="1" height="6" fill="#54ffff"/>
<rect x="803" y="335" width="1" height="4" fill="#54ffff"/>
<rect x="802" y="328" width="3" height="7" fill="#54ffff"/>
<rect x="808" y="328" width="1" height="8" fill="#54ffff"/>
<rect x="808" y="342" width="1" height="4" fill="#54ffff"/>
<rect x="807" y="336" width="3" height="6" fill="#54ffff"/>
<rect x="813" y="323" width="1" height="8" fill="#ff5454"/>
<rect x="813" y="346" width="1" height="11" fill="#ff5454"/>
<rect x="812" y="331" width="3" height="15" fill="#ff5454"/>
<rect x="813" y="332" width="1" height="13" fill="#000"/>
<rect x="817" y="325" width="1" height="6" fill="#54ffff"/>
<rect x="817" y="338" width="1" height="9" fill="#54ffff"/>
<rect x="816" y="331" width="3" height="7" fill="#54ffff"/>
<rect x="822" y="322" width="1" height="20" fill="#54ffff"/>
<rect x="822" y="346" width="1" height="6" fill="#54ffff"/>
<rect x="821" y="342" width="3" height="4" fill="#54ffff"/>
<rect x="827" y="338" width="1" height="9" fill="#54ffff"/>
<rect x="827" y="398" width="1" height="6" fill="#54ffff"/>
<rect x="826" y="347" width="3" height="51" fill="#54ffff"/>
<rect x="832" y="379" width="1" height="11" fill="#ff5454"/>
<rect x="832" y="399" width="1" height="2" fill="#ff5454"/>
<rect x="831" y="390" width="3" height="9" fill="#ff5454"/>
<rect x="832" y="391" width="1" height="7" fill="#000"/>
<rect x="837" y="382" width="1" height="10" fill="#54ffff"/>
<rect x="837" y="398" width="1" height="3" fill="#54ffff"/>
<rect x="836" y="392" width="3" height="6" fill="#54ffff"/>
<rect x="841" y="390" width="1" height="1" fill="#ff5454"/>
<rect x="841" y="398" width="1" height="21" fill="#ff5454"/>
<rect x="840" y="391" width="3" height="7" fill="#ff5454"/>
<rect x="841" y="392" width="1" height="5" fill="#000"/>
<rect x="846" y="384" width="1" height="6" fill="#54ffff"/>
<rect x="845" y="390" width="3" height="11" fill="#54ffff"/>
<rect x="851" y="393" width="1" height="8" fill="#54ffff"/>
<rect x="851" y="409" width="1" height="2" fill="#54ffff"/>
<rect x="850" y="401" width="3" height="8" fill="#54ffff"/>
<rect x="856" y="403" width="1" height="5" fill="#54ffff"/>
<rect x="856" y="412" width="1" height="3" fill="#54ffff"/>
<rect x="855" y="408" width="3" height="4" fill="#54ffff"/>
<rect x="859" y="412" width="3" height="1" fill="#c0c0c0"/>
<rect x="860" y="412" width="1" height="2" fill="#c0c0c0"/>
<rect x="865" y="391" width="1" height="7" fill="#ff5454"/>
<rect x="865" y="412" width="1" height="1" fill="#ff5454"/>
<rect x="864" y="398" width="3" height="14" fill="#ff5454"/>
<rect x="865" y="399" width="1" height="12" fill="#000"/>
<rect x="870" y="391" width="1" height="4" fill="#ff5454"/>
<rect x="870" y="399" width="1" height="4" fill="#ff5454"/>
<rect x="869" y="395" width="3" height="4" fill="#ff5454"/>
<rect x="870" y="396" width="1" height="2" fill="#000"/>
<rect x="875" y="380" width="1" height="5" fill="#ff5454"/>
<rect x="875" y="395" width="1" height="2" fill="#ff5454"/>
<rect x="874" y="385" width="3" height="10" fill="#ff5454"/>
<rect x="875" y="386" width="1" height="8" fill="#000"/>
<rect x="880" y="379" width="1" height="6" fill="#54ffff"/>
<rect x="880" y="403" width="1" height="3" fill="#54ffff"/>
<rect x="879" y="385" width="3" height="18" fill="#54ffff"/>
<rect x="884" y="400" width="1" height="1" fill="#c0c0c0"/>
<rect x="883" y="401" width="3" height="1" fill="#c0c0c0"/>
<rect x="884" y="400" width="1" height="3" fill="#c0c0c0"/>
<rect x="889" y="366" width="1" height="13" fill="#ff5454"/>
<rect x="889" y="401" width="1" height="1" fill="#ff5454"/>
<rect x="888" y="379" width="3" height="22" fill="#ff5454"/>
<rect x="889" y="380" width="1" height="20" fill="#000"/>
<rect x="894" y="365" width="1" height="5" fill="#ff5454"/>
<rect x="894" y="378" width="1" height="2" fill="#ff5454"/>
<rect x="893" y="370" width="3" height="8" fill="#ff5454"/>
<rect x="894" y="371" width="1" height="6" fill="#000"/>
<rect x="899" y="352" width="1" height="9" fill="#ff5454"/>
<rect x="899" y="371" width="1" height="1" fill="#ff5454"/>
<rect x="898" y="361" width="3" height="10" fill="#ff5454"/>
<rect x="899" y="362" width="1" height="8" fill="#000"/>
<rect x="904" y="355" width="1" height="6" fill="#54ffff"/>
<rect x="904" y="368" width="1" height="12" fill="#54ffff"/>
<rect x="903" y="361" width="3" height="7" fill="#54ffff"/>
<rect x="909" y="353" width="1" height="9" fill="#ff5454"/>
<rect x="909" y="367" width="1" height="1" fill="#ff5454"/>
<rect x="908" y="362" width="3" height="5" fill="#ff5454"/>
<rect x="909" y="363" width="1" height="3" fill="#000"/>
<rect x="913" y="340" width="1" height="8" fill="#ff5454"/>
<rect x="913" y="362" width="1" height="2" fill="#ff5454"/>
<rect x="912" y="348" width="3" height="14" fill="#ff5454"/>
<rect x="913" y="349" width="1" height="12" fill="#000"/>
<rect x="918" y="343" width="1" height="5" fill="#54ffff"/>
<rect x="918" y="354" width="1" height="11" fill="#54ffff"/>
<rect x="917" y="348" width="3" height="6" fill="#54ffff"/>
<rect x="923" y="336" width="1" height="14" fill="#ff5454"/>
<rect x="923" y="353" width="1" height="1" fill="#ff5454"/>
<rect x="922" y="350" width="3" height="3" fill="#ff5454"/>
<rect x="923" y="351" width="1" height="1" fill="#000"/>
<rect x="928" y="345" width="1" height="1" fill="#ff5454"/>
<rect x="928" y="351" width="1" height="10" fill="#ff5454"/>
<rect x="927" y="346" width="3" height="5" fill="#ff5454"/>
<rect x="928" y="347" width="1" height="3" fill="#000"/>
<rect x="933" y="339" width="1" height="4" fill="#ff5454"/>
<rect x="933" y="349" width="1" height="1" fill="#ff5454"/>
<rect x="932" y="343" width="3" height="6" fill="#ff5454"/>
<rect x="933" y="344" width="1" height="4" fill="#000"/>
<rect x="937" y="323" width="1" height="2" fill="#ff5454"/>
<rect x="937" y="347" width="1" height="2" fill="#ff5454"/>
<rect x="936" y="325" width="3" height="22" fill="#ff5454"/>
<rect x="937" y="326" width="1" height="20" fill="#000"/>
<rect x="942" y="315" width="1" height="10" fill="#54ffff"/>
<rect x="942" y="332" width="1" height="2" fill="#54ffff"/>
<rect x="941" y="325" width="3" height="7" fill="#54ffff"/>
<rect x="947" y="329" width="1" height="4" fill="#54ffff"/>
<rect x="947" y="338" width="1" height="14" fill="#54ffff"/>
<rect x="946" y="333" width="3" height="5" fill="#54ffff"/>
<rect x="952" y="325" width="1" height="4" fill="#ff5454"/>
<rect x="952" y="336" width="1" height="12" fill="#ff5454"/>
<rect x="951" y="329" width="3" height="7" fill="#ff5454"/>
<rect x="952" y="330" width="1" height="5" fill="#000"/>
<rect x="957" y="320" width="1" height="2" fill="#ff5454"/>
<rect x="956" y="322" width="3" height="8" fill="#ff5454"/>
<rect x="957" y="323" width="1" height="6" fill="#000"/>
<rect x="961" y="318" width="1" height="3" fill="#54ffff"/>
<rect x="961" y="327" width="1" height="7" fill="#54ffff"/>
<rect x="960" y="321" width="3" height="6" fill="#54ffff"/>
<rect x="966" y="328" width="1" height="2" fill="#54ffff"/>
<rect x="966" y="336" width="1" height="15" fill="#54ffff"/>
<rect x="965" y="330" width="3" height="6" fill="#54ffff"/>
<rect x="971" y="333" width="1" height="2" fill="#54ffff"/>
<rect x="971" y="350" width="1" height="6" fill="#54ffff"/>
<rect x="970" y="335" width="3" height="15" fill="#54ffff"/>
<rect x="976" y="320" width="1" height="9" fill="#ff5454"/>
<rect x="976" y="350" width="1" height="9" fill="#ff5454"/>
<rect x="975" y="329" width="3" height="21" fill="#ff5454"/>
<rect x="976" y="330" width="1" height="19" fill="#000"/>
<rect x="981" y="318" width="1" height="10" fill="#54ffff"/>
<rect x="981" y="331" width="1" height="2" fill="#54ffff"/>
<rect x="980" y="328" width="3" height="3" fill="#54ffff"/>
<rect x="985" y="298" width="1" height="4" fill="#ff5454"/>
<rect x="985" y="329" width="1" height="1" fill="#ff5454"/>
<rect x="984" y="302" width="3" height="27" fill="#ff5454"/>
<rect x="985" y="303" width="1" height="25" fill="#000"/>
<rect x="990" y="297" width="1" height="6" fill="#54ffff"/>
<rect x="990" y="305" width="1" height="10" fill="#54ffff"/>
<rect x="989" y="303" width="3" height="2" fill="#54ffff"/>
<rect x="995" y="291" width="1" height="13" fill="#54ffff"/>
<rect x="995" y="308" width="1" height="3" fill="#54ffff"/>
<rect x="994" y="304" width="3" height="4" fill="#54ffff"/>
<rect x="1000" y="303" width="1" height="2" fill="#ff5454"/>
<rect x="1000" y="309" width="1" height="12" fill="#ff5454"/>
<rect x="999" y="305" width="3" height="4" fill="#ff5454"/>
<rect x="1000" y="306" width="1" height="2" fill="#000"/>
<rect x="1005" y="290" width="1" height="3" fill="#ff5454"/>
<rect x="1005" y="305" width="1" height="4" fill="#ff5454"/>
<rect x="1004" y="293" width="3" height="12" fill="#ff5454"/>
<rect x="1005" y="294" width="1" height="10" fill="#000"/>
<rect x="1009" y="288" width="1" height="4" fill="#54ffff"/>
<rect x="1009" y="295" width="1" height="5" fill="#54ffff"/>
<rect x="1008" y="292" width="3" height="3" fill="#54ffff"/>
<rect x="1014" y="283" width="1" height="8" fill="#ff5454"/>
<rect x="1014" y="295" width="1" height="3" fill="#ff5454"/>
<rect x="1013" y="291" width="3" height="4" fill="#ff5454"/>
<rect x="1014" y="292" width="1" height="2" fill="#000"/>
<rect x="1019" y="284" width="1" height="6" fill="#54ffff"/>
<rect x="1018" y="290" width="3" height="9" fill="#54ffff"/>
<rect x="1024" y="275" width="1" height="4" fill="#ff5454"/>
<rect x="1024" y="298" width="1" height="5" fill="#ff5454"/>
<rect x="1023" y="279" width="3" height="19" fill="#ff5454"/>
<rect x="1024" y="280" width="1" height="17" fill="#000"/>
<rect x="1029" y="275" width="1" height="6" fill="#54ffff"/>
<rect x="1029" y="287" width="1" height="1" fill="#54ffff"/>
<rect x="1028" y="281" width="3" height="6" fill="#54ffff"/>
<rect x="1033" y="271" width="1" height="9" fill="#ff5454"/>
<rect x="1033" y="287" width="1" height="4" fill="#ff5454"/>
<rect x="1032" y="280" width="3" height="7" fill="#ff5454"/>
<rect x="1033" y="281" width="1" height="5" fill="#000"/>
<rect x="1038" y="276" width="1" height="1" fill="#ff5454"/>
<rect x="1038" y="280" width="1" height="11" fill="#ff5454"/>
<rect x="1037" y="277" width="3" height="3" fill="#ff5454"/>
<rect x="1038" y="278" width="1" height="1" fill="#000"/>
<rect x="1043" y="267" width="1" height="5" fill="#ff5454"/>
<rect x="1043" y="278" width="1" height="3" fill="#ff5454"/>
<rect x="1042" y="272" width="3" height="6" fill="#ff5454"/>
<rect x="1043" y="273" width="1" height="4" fill="#000"/>
<rect x="1048" y="270" width="1" height="1" fill="#54ffff"/>
<rect x="1048" y="277" width="1" height="1" fill="#54ffff"/>
<rect x="1047" y="271" width="3" height="6" fill="#54ffff"/>
<rect x="1053" y="271" width="1" height="3" fill="#ff5454"/>
<rect x="1053" y="278" width="1" height="4" fill="#ff5454"/>
<rect x="1052" y="274" width="3" height="4" fill="#ff5454"/>
<rect x="1053" y="275" width="1" height="2" fill="#000"/>
<rect x="1057" y="270" width="1" height="3" fill="#54ffff"/>
<rect x="1057" y="278" width="1" height="9" fill="#54ffff"/>
<rect x="1056" y="273" width="3" height="5" fill="#54ffff"/>
<rect x="1062" y="272" width="1" height="3" fill="#ff5454"/>
<rect x="1062" y="278" width="1" height="2" fill="#ff5454"/>
<rect x="1061" y="275" width="3" height="3" fill="#ff5454"/>
<rect x="1062" y="276" width="1" height="1" fill="#000"/>
<rect x="1067" y="262" width="1" height="5" fill="#ff5454"/>
<rect x="1067" y="277" width="1" height="2" fill="#ff5454"/>
<rect x="1066" y="267" width="3" height="10" fill="#ff5454"/>
<rect x="1067" y="268" width="1" height="8" fill="#000"/>
<rect x="1072" y="251" width="1" height="3" fill="#ff5454"/>
<rect x="1072" y="267" width="1" height="1" fill="#ff5454"/>
<rect x="1071" y="254" width="3" height="13" fill="#ff5454"/>
<rect x="1072" y="255" width="1" height="11" fill="#000"/>
<rect x="1077" y="250" width="1" height="3" fill="#54ffff"/>
<rect x="1077" y="255" width="1" height="3" fill="#54ffff"/>
<rect x="1076" y="253" width="3" height="2" fill="#54ffff"/>
<rect x="1081" y="247" width="1" height="11" fill="#ff5454"/>
<rect x="1081" y="260" width="1" height="2" fill="#ff5454"/>
<rect x="1080" y="258" width="3" height="2" fill="#ff5454"/>
<rect x="1086" y="248" width="1" height="4" fill="#ff5454"/>
<rect x="1086" y="258" width="1" height="5" fill="#ff5454"/>
<rect x="1085" y="252" width="3" height="6" fill="#ff5454"/>
<rect x="1086" y="253" width="1" height="4" fill="#000"/>
<rect x="1091" y="249" width="1" height="3" fill="#54ffff"/>
<rect x="1091" y="294" width="1" height="2" fill="#54ffff"/>
<rect x="1090" y="252" width="3" height="42" fill="#54ffff"/>
<rect x="1096" y="276" width="1" height="1" fill="#ff5454"/>
<rect x="1096" y="292" width="1" height="7" fill="#ff5454"/>
<rect x="1095" y="277" width="3" height="15" fill="#ff5454"/>
<rect x="1096" y="278" width="1" height="13" fill="#000"/>
<rect x="1101" y="277" width="1" height="2" fill="#54ffff"/>
<rect x="1101" y="284" width="1" height="3" fill="#54ffff"/>
<rect x="1100" y="279" width="3" height="5" fill="#54ffff"/>
</g>
<g shape-rendering="crispEdges">
<polyline points="16.0,414.4 21.0,409.3 25.0,404.2 30.0,398.5 35.0,392.4 40.0,385.7 45.0,378.1 49.0,371.4 54.0,365.2 59.0,359.3 64.0,353.8 69.0,348.4 73.0,344.7 78.0,341.6 83.0,337.9 88.0,335.5 93.0,332.2 97.0,328.4 102.0,325.2 107.0,323.9 112.0,324.6 117.0,325.7 121.0,327.4 126.0,329.5 131.0,331.3 136.0,333.6 141.0,336.6 145.0,340.8 150.0,346.0 155.0,350.2 160.0,353.0 165.0,355.4 170.0,357.9 174.0,359.2 179.0,358.5 184.0,357.8 189.0,357.9 194.0,356.7 198.0,355.4 203.0,355.2 208.0,354.5 213.0,353.0 218.0,350.8 222.0,348.8 227.0,346.4 232.0,342.2 237.0,338.3 242.0,334.3 246.0,328.7 251.0,321.3 256.0,310.8 261.0,299.1 266.0,289.5 270.0,279.7 275.0,270.7 280.0,261.8 285.0,253.9 290.0,246.2 294.0,238.2 299.0,230.3 304.0,223.0 309.0,215.2 313.0,208.6 318.0,203.4 323.0,196.8 328.0,190.2 333.0,184.0 337.0,178.9 342.0,171.9 347.0,165.4 352.0,159.9 357.0,155.2 361.0,153.0 366.0,152.7 371.0,151.7 376.0,152.7 381.0,152.6 385.0,153.8 390.0,153.9 395.0,154.5 400.0,156.1 405.0,157.3 409.0,158.5 414.0,159.6 419.0,160.0 424.0,160.3 429.0,162.6 433.0,164.8 438.0,167.5 443.0,170.5 448.0,175.0 453.0,178.7 457.0,183.4 462.0,188.1 467.0,192.8 472.0,195.4 477.0,197.6 481.0,196.7 486.0,196.6 491.0,197.1 496.0,200.1 501.0,202.4 505.0,204.8 510.0,207.2 515.0,209.1 520.0,211.6 525.0,213.1 529.0,213.4 534.0,210.9 539.0,208.1 544.0,205.1 549.0,202.5 553.0,201.2 558.0,200.1 563.0,198.7 568.0,197.4 573.0,197.6 577.0,202.1 582.0,206.9 587.0,214.3 592.0,220.4 597.0,225.9 601.0,230.4 606.0,234.6 611.0,238.3 616.0,242.4 620.0,246.9 625.0,250.0 630.0,254.1 635.0,258.6 640.0,264.7 645.0,270.9 649.0,276.2 654.0,281.2 659.0,285.3 664.0,289.3 669.0,292.5 673.0,294.8 678.0,295.8 683.0,294.2 688.0,292.4 693.0,290.0 697.0,287.8 702.0,285.5 707.0,282.3 712.0,282.7 717.0,284.4 721.0,285.3 726.0,286.6 731.0,289.2 736.0,292.1 741.0,294.8 745.0,297.1 750.0,300.3 755.0,304.3 760.0,307.2 765.0,310.0 769.0,312.9 774.0,316.7 779.0,321.5 784.0,326.2 789.0,330.6 793.0,335.2 798.0,338.2 803.0,341.7 808.0,345.9 813.0,350.0 817.0,351.1 822.0,351.4 827.0,354.3 832.0,356.7 837.0,358.6 841.0,360.0 846.0,361.8 851.0,364.2 856.0,365.9 860.0,367.5 865.0,369.1 870.0,370.7 875.0,372.0 880.0,373.7 884.0,375.5 889.0,376.7 894.0,377.6 899.0,377.9 904.0,379.6 909.0,380.9 913.0,381.2 918.0,382.2 923.0,382.8 928.0,382.8 933.0,380.4 937.0,377.4 942.0,374.4 947.0,371.9 952.0,368.7 957.0,364.8 961.0,361.0 966.0,357.5 971.0,355.2 976.0,352.2 981.0,349.7 985.0,345.2 990.0,340.8 995.0,337.5 1000.0,334.6 1005.0,331.5 1009.0,328.2 1014.0,324.9 1019.0,322.7 1024.0,319.3 1029.0,316.4 1033.0,313.5 1038.0,310.5 1043.0,308.1 1048.0,305.6 1053.0,302.7 1057.0,300.4 1062.0,298.2 1067.0,295.5 1072.0,291.9 1077.0,287.6 1081.0,284.4 1086.0,280.8 1091.0,280.4 1096.0,279.2 1101.0,278.1" fill="none" stroke="#ff00ff" stroke-width="1"/>
<polyline points="16.0,378.8 21.0,372.6 25.0,367.1 30.0,360.5 35.0,352.0 40.0,341.3 45.0,330.6 49.0,323.8 54.0,320.0 59.0,317.4 64.0,315.4 69.0,312.3 73.0,312.1 78.0,312.6 83.0,311.9 88.0,315.4 93.0,319.9 97.0,322.3 102.0,323.4 107.0,326.2 112.0,331.1 117.0,336.8 121.0,340.6 126.0,346.0 131.0,352.6 136.0,356.4 141.0,361.5 145.0,368.5 150.0,376.3 155.0,381.7 160.0,382.3 165.0,382.7 170.0,382.6 174.0,377.8 179.0,371.9 184.0,365.9 189.0,358.8 194.0,350.4 198.0,340.5 203.0,333.4 208.0,326.9 213.0,320.9 218.0,315.3 222.0,314.0 227.0,313.9 232.0,311.5 237.0,309.5 242.0,307.2 246.0,303.0 251.0,294.0 256.0,280.2 261.0,263.2 266.0,247.5 270.0,230.5 275.0,216.2 280.0,201.0 285.0,186.2 290.0,171.9 294.0,159.5 299.0,150.1 304.0,147.3 309.0,148.8 313.0,149.0 318.0,153.1 323.0,152.7 328.0,156.5 333.0,160.3 337.0,163.6 342.0,163.6 347.0,164.5 352.0,164.1 357.0,161.8 361.0,157.7 366.0,151.7 371.0,148.3 376.0,147.9 381.0,147.0 385.0,145.6 390.0,146.7 395.0,147.8 400.0,151.2 405.0,154.8 409.0,159.6 414.0,163.8 419.0,167.4 424.0,169.8 429.0,174.7 433.0,180.8 438.0,190.2 443.0,198.9 448.0,205.3 453.0,211.6 457.0,218.7 462.0,224.6 467.0,229.7 472.0,228.9 477.0,225.4 481.0,218.1 486.0,210.8 491.0,204.2 496.0,201.8 501.0,199.9 505.0,198.3 510.0,196.8 515.0,195.6 520.0,199.5 525.0,201.5 529.0,206.4 534.0,206.3 539.0,204.9 544.0,201.2 549.0,199.1 553.0,197.4 558.0,196.0 563.0,195.8 568.0,193.4 573.0,195.6 577.0,204.0 582.0,216.5 587.0,231.7 592.0,244.6 597.0,255.7 601.0,266.0 606.0,276.0 611.0,285.4 616.0,295.8 620.0,303.9 625.0,305.0 630.0,305.3 635.0,303.9 640.0,303.7 645.0,304.0 649.0,302.0 654.0,301.5 659.0,300.9 664.0,299.0 669.0,296.3 673.0,291.9 678.0,287.3 683.0,282.5 688.0,277.3 693.0,273.6 697.0,270.1 702.0,265.1 707.0,259.4 712.0,261.6 717.0,267.4 721.0,275.1 726.0,283.8 731.0,293.8 736.0,304.8 741.0,314.3 745.0,324.4 750.0,336.7 755.0,350.3 760.0,355.4 765.0,357.2 769.0,359.7 774.0,362.3 779.0,363.2 784.0,362.2 789.0,361.2 793.0,361.0 798.0,356.9 803.0,352.5 808.0,350.3 813.0,347.5 817.0,345.6 822.0,343.8 827.0,347.1 832.0,351.0 837.0,355.6 841.0,359.3 846.0,366.3 851.0,373.7 856.0,380.7 860.0,388.8 865.0,394.9 870.0,399.8 875.0,398.6 880.0,399.8 884.0,400.3 889.0,399.1 894.0,396.0 899.0,391.4 904.0,387.0 909.0,382.0 913.0,377.0 918.0,372.8 923.0,369.2 928.0,363.7 933.0,357.8 937.0,352.4 942.0,348.6 947.0,346.1 952.0,342.3 957.0,338.4 961.0,336.2 966.0,334.4 971.0,334.3 976.0,332.5 981.0,331.2 985.0,329.0 990.0,326.3 995.0,323.4 1000.0,320.9 1005.0,318.0 1009.0,314.8 1014.0,310.4 1019.0,305.3 1024.0,300.4 1029.0,296.0 1033.0,293.8 1038.0,291.1 1043.0,287.7 1048.0,284.8 1053.0,282.8 1057.0,281.1 1062.0,279.5 1067.0,276.5 1072.0,274.0 1077.0,270.8 1081.0,268.5 1086.0,266.0 1091.0,268.1 1096.0,268.2 1101.0,269.1" fill="none" stroke="#ffff00" stroke-width="1"/>
<polyline points="16.0,358.2 21.0,347.1 25.0,340.2 30.0,335.4 35.0,330.9 40.0,324.5 45.0,314.2 49.0,307.4 54.0,304.6 59.0,303.9 64.0,306.3 69.0,310.5 73.0,316.9 78.0,320.6 83.0,320.0 88.0,324.5 93.0,329.4 97.0,327.7 102.0,326.2 107.0,332.4 112.0,337.8 117.0,344.3 121.0,353.5 126.0,365.7 131.0,372.9 136.0,375.0 141.0,378.8 145.0,383.5 150.0,386.9 155.0,390.4 160.0,389.7 165.0,386.6 170.0,381.7 174.0,368.6 179.0,353.3 184.0,342.0 189.0,330.9 194.0,319.1 198.0,312.3 203.0,313.4 208.0,311.7 213.0,310.8 218.0,311.6 222.0,315.6 227.0,314.5 232.0,311.4 237.0,308.2 242.0,302.8 246.0,290.4 251.0,273.4 256.0,249.0 261.0,218.2 266.0,192.3 270.0,170.6 275.0,158.9 280.0,153.0 285.0,154.2 290.0,151.5 294.0,148.5 299.0,141.2 304.0,141.7 309.0,143.4 313.0,146.5 318.0,157.8 323.0,164.2 328.0,171.2 333.0,177.2 337.0,180.7 342.0,169.4 347.0,164.9 352.0,156.9 357.0,146.5 361.0,134.7 366.0,134.0 371.0,131.8 376.0,138.9 381.0,147.5 385.0,156.6 390.0,159.5 395.0,163.8 400.0,163.4 405.0,162.1 409.0,162.6 414.0,168.1 419.0,170.9 424.0,176.1 429.0,187.3 433.0,199.1 438.0,212.3 443.0,226.9 448.0,234.5 453.0,235.9 457.0,238.4 462.0,236.9 467.0,232.5 472.0,223.4 477.0,214.9 481.0,197.7 486.0,184.7 491.0,175.9 496.0,180.3 501.0,184.9 505.0,198.9 510.0,208.8 515.0,215.3 520.0,218.7 525.0,218.0 529.0,214.0 534.0,203.7 539.0,194.5 544.0,183.7 549.0,180.2 553.0,180.9 558.0,188.2 563.0,197.1 568.0,203.2 573.0,211.0 577.0,227.1 582.0,244.8 587.0,266.3 592.0,286.1 597.0,300.3 601.0,304.8 606.0,307.1 611.0,304.4 616.0,305.6 620.0,307.4 625.0,305.2 630.0,303.5 635.0,303.3 640.0,301.8 645.0,300.5 649.0,298.8 654.0,299.4 659.0,298.4 664.0,296.1 669.0,292.1 673.0,285.0 678.0,275.2 683.0,266.5 688.0,258.5 693.0,255.2 697.0,255.2 702.0,255.0 707.0,252.3 712.0,264.6 717.0,279.6 721.0,295.0 726.0,312.6 731.0,335.4 736.0,345.0 741.0,349.1 745.0,353.7 750.0,360.8 755.0,365.3 760.0,365.7 765.0,365.3 769.0,365.7 774.0,363.9 779.0,361.1 784.0,358.6 789.0,357.1 793.0,356.4 798.0,349.9 803.0,344.0 808.0,341.9 813.0,337.9 817.0,334.7 822.0,337.6 827.0,350.3 832.0,360.1 837.0,373.2 841.0,383.9 846.0,394.9 851.0,397.1 856.0,401.2 860.0,404.3 865.0,405.8 870.0,404.7 875.0,400.2 880.0,398.4 884.0,396.2 889.0,392.3 894.0,387.4 899.0,382.6 904.0,375.7 909.0,367.7 913.0,361.6 918.0,358.2 923.0,355.9 928.0,351.7 933.0,347.9 937.0,343.2 942.0,338.9 947.0,336.3 952.0,332.9 957.0,328.8 961.0,329.1 966.0,329.9 971.0,332.3 976.0,332.1 981.0,333.7 985.0,328.9 990.0,322.7 995.0,314.4 1000.0,309.7 1005.0,302.3 1009.0,300.7 1014.0,298.1 1019.0,296.2 1024.0,291.0 1029.0,289.7 1033.0,287.0 1038.0,284.2 1043.0,279.1 1048.0,278.5 1053.0,275.9 1057.0,275.3 1062.0,274.9 1067.0,273.8 1072.0,269.5 1077.0,265.6 1081.0,261.8 1086.0,257.2 1091.0,262.4 1096.0,266.9 1101.0,272.7" fill="none" stroke="#ffffff" stroke-width="1"/>
</g>
<g shape-rendering="crispEdges">
<polyline points="134.6,450 265.6,87.6" fill="none" stroke="#ff40ff" stroke-width="1"/>
<polyline points="262,88 266,89 291,94" fill="none" stroke="#c8c8c8" stroke-width="1"/>
<line x1="812" y1="413.5" x2="841.5" y2="418.5" stroke="#c8c8c8" stroke-width="1"/>
</g>
<text x="16.5" y="100" fill="#ff40ff" stroke="#ff40ff" stroke-width="0.25" font-size="12.5" font-family="'Liberation Sans','Noto Sans CJK SC',sans-serif" textLength="30.5" lengthAdjust="spacingAndGlyphs">0.000</text>
<text x="16.5" y="206" fill="#ff40ff" stroke="#ff40ff" stroke-width="0.25" font-size="12.5" font-family="'Liberation Sans','Noto Sans CJK SC',sans-serif" textLength="30.5" lengthAdjust="spacingAndGlyphs">0.236</text>
<text x="16.5" y="271" fill="#ff40ff" stroke="#ff40ff" stroke-width="0.25" font-size="12.5" font-family="'Liberation Sans','Noto Sans CJK SC',sans-serif" textLength="30.5" lengthAdjust="spacingAndGlyphs">0.382</text>
<text x="16.5" y="325" fill="#ff40ff" stroke="#ff40ff" stroke-width="0.25" font-size="12.5" font-family="'Liberation Sans','Noto Sans CJK SC',sans-serif" textLength="30.5" lengthAdjust="spacingAndGlyphs">0.500</text>
<text x="16.5" y="378" fill="#ff40ff" stroke="#ff40ff" stroke-width="0.25" font-size="12.5" font-family="'Liberation Sans','Noto Sans CJK SC',sans-serif" textLength="30.5" lengthAdjust="spacingAndGlyphs">0.618</text>
<text x="291.5" y="106" fill="#e0e0e0" stroke="#e0e0e0" stroke-width="0.25" font-size="12.5" font-family="'Liberation Sans','Noto Sans CJK SC',sans-serif" textLength="36.5" lengthAdjust="spacingAndGlyphs">21.121</text>
<text x="774" y="409" fill="#e0e0e0" stroke="#e0e0e0" stroke-width="0.25" font-size="12.5" font-family="'Liberation Sans','Noto Sans CJK SC',sans-serif" textLength="35.5" lengthAdjust="spacingAndGlyphs">15.611</text>
<polygon points="1098.2,274.3 1106.5,284.8 1110,282.9 1111.6,294.1 1101.4,288.7 1104.6,287.2" fill="#ff4444"/>
<polygon points="1111.6,294.1 1114.0,279.6 1112.6,278.8 1119.9,271.1 1120.9,281.8 1118.8,280.8 1112.6,294.1" fill="#ff4444"/>
<polygon points="1121.2,268.4 1135.2,285.2 1139.1,282.1 1142.6,297.6 1128.7,290.1 1132.2,288.1" fill="#ff4444"/>
<g shape-rendering="crispEdges">
<rect x="15" y="500" width="3" height="87" fill="#ff5454"/>
<rect x="16" y="501" width="1" height="86" fill="#000"/>
<rect x="20" y="507" width="3" height="80" fill="#54ffff"/>
<rect x="24" y="518" width="3" height="69" fill="#ff5454"/>
<rect x="25" y="519" width="1" height="68" fill="#000"/>
<rect x="29" y="525" width="3" height="62" fill="#ff5454"/>
<rect x="30" y="526" width="1" height="61" fill="#000"/>
<rect x="34" y="507" width="3" height="80" fill="#ff5454"/>
<rect x="35" y="508" width="1" height="79" fill="#000"/>
<rect x="39" y="515" width="3" height="72" fill="#ff5454"/>
<rect x="40" y="516" width="1" height="71" fill="#000"/>
<rect x="44" y="508" width="3" height="79" fill="#ff5454"/>
<rect x="45" y="509" width="1" height="78" fill="#000"/>
<rect x="48" y="518" width="3" height="69" fill="#54ffff"/>
<rect x="53" y="512" width="3" height="75" fill="#54ffff"/>
<rect x="58" y="511" width="3" height="76" fill="#54ffff"/>
<rect x="63" y="504" width="3" height="83" fill="#54ffff"/>
<rect x="68" y="513" width="3" height="74" fill="#ff5454"/>
<rect x="69" y="514" width="1" height="73" fill="#000"/>
<rect x="72" y="511" width="3" height="76" fill="#54ffff"/>
<rect x="77" y="516" width="3" height="71" fill="#ff5454"/>
<rect x="78" y="517" width="1" height="70" fill="#000"/>
<rect x="82" y="515" width="3" height="72" fill="#ff5454"/>
<rect x="83" y="516" width="1" height="71" fill="#000"/>
<rect x="87" y="513" width="3" height="74" fill="#54ffff"/>
<rect x="92" y="519" width="3" height="68" fill="#ff5454"/>
<rect x="93" y="520" width="1" height="67" fill="#000"/>
<rect x="96" y="511" width="3" height="76" fill="#ff5454"/>
<rect x="97" y="512" width="1" height="75" fill="#000"/>
<rect x="101" y="515" width="3" height="72" fill="#ff5454"/>
<rect x="102" y="516" width="1" height="71" fill="#000"/>
<rect x="106" y="510" width="3" height="77" fill="#54ffff"/>
<rect x="111" y="510" width="3" height="77" fill="#54ffff"/>
<rect x="116" y="524" width="3" height="63" fill="#ff5454"/>
<rect x="117" y="525" width="1" height="62" fill="#000"/>
<rect x="120" y="522" width="3" height="65" fill="#54ffff"/>
<rect x="125" y="519" width="3" height="68" fill="#54ffff"/>
<rect x="130" y="520" width="3" height="67" fill="#ff5454"/>
<rect x="131" y="521" width="1" height="66" fill="#000"/>
<rect x="135" y="520" width="3" height="67" fill="#ff5454"/>
<rect x="136" y="521" width="1" height="66" fill="#000"/>
<rect x="140" y="520" width="3" height="67" fill="#54ffff"/>
<rect x="144" y="520" width="3" height="67" fill="#54ffff"/>
<rect x="149" y="493" width="3" height="94" fill="#54ffff"/>
<rect x="154" y="526" width="3" height="61" fill="#ff5454"/>
<rect x="155" y="527" width="1" height="60" fill="#000"/>
<rect x="159" y="523" width="3" height="64" fill="#ff5454"/>
<rect x="160" y="524" width="1" height="63" fill="#000"/>
<rect x="164" y="522" width="3" height="65" fill="#ff5454"/>
<rect x="165" y="523" width="1" height="64" fill="#000"/>
<rect x="169" y="531" width="3" height="56" fill="#54ffff"/>
<rect x="173" y="521" width="3" height="66" fill="#ff5454"/>
<rect x="174" y="522" width="1" height="65" fill="#000"/>
<rect x="178" y="524" width="3" height="63" fill="#ff5454"/>
<rect x="179" y="525" width="1" height="62" fill="#000"/>
<rect x="183" y="526" width="3" height="61" fill="#ff5454"/>
<rect x="184" y="527" width="1" height="60" fill="#000"/>
<rect x="188" y="517" width="3" height="70" fill="#ff5454"/>
<rect x="189" y="518" width="1" height="69" fill="#000"/>
<rect x="193" y="535" width="3" height="52" fill="#54ffff"/>
<rect x="197" y="541" width="3" height="46" fill="#ff5454"/>
<rect x="198" y="542" width="1" height="45" fill="#000"/>
<rect x="202" y="511" width="3" height="76" fill="#54ffff"/>
<rect x="207" y="532" width="3" height="55" fill="#ff5454"/>
<rect x="208" y="533" width="1" height="54" fill="#000"/>
<rect x="212" y="531" width="3" height="56" fill="#ff5454"/>
<rect x="213" y="532" width="1" height="55" fill="#000"/>
<rect x="217" y="531" width="3" height="56" fill="#54ffff"/>
<rect x="221" y="532" width="3" height="55" fill="#54ffff"/>
<rect x="226" y="532" width="3" height="55" fill="#ff5454"/>
<rect x="227" y="533" width="1" height="54" fill="#000"/>
<rect x="231" y="505" width="3" height="82" fill="#ff5454"/>
<rect x="232" y="506" width="1" height="81" fill="#000"/>
<rect x="236" y="521" width="3" height="66" fill="#c0c0c0"/>
<rect x="241" y="528" width="3" height="59" fill="#ff5454"/>
<rect x="242" y="529" width="1" height="58" fill="#000"/>
<rect x="245" y="531" width="3" height="56" fill="#ff5454"/>
<rect x="246" y="532" width="1" height="55" fill="#000"/>
<rect x="250" y="530" width="3" height="57" fill="#ff5454"/>
<rect x="251" y="531" width="1" height="56" fill="#000"/>
<rect x="255" y="520" width="3" height="67" fill="#ff5454"/>
<rect x="256" y="521" width="1" height="66" fill="#000"/>
<rect x="260" y="523" width="3" height="64" fill="#ff5454"/>
<rect x="261" y="524" width="1" height="63" fill="#000"/>
<rect x="265" y="506" width="3" height="81" fill="#54ffff"/>
<rect x="269" y="514" width="3" height="73" fill="#ff5454"/>
<rect x="270" y="515" width="1" height="72" fill="#000"/>
<rect x="274" y="522" width="3" height="65" fill="#54ffff"/>
<rect x="279" y="521" width="3" height="66" fill="#ff5454"/>
<rect x="280" y="522" width="1" height="65" fill="#000"/>
<rect x="284" y="511" width="3" height="76" fill="#54ffff"/>
<rect x="289" y="514" width="3" height="73" fill="#54ffff"/>
<rect x="293" y="519" width="3" height="68" fill="#ff5454"/>
<rect x="294" y="520" width="1" height="67" fill="#000"/>
<rect x="298" y="518" width="3" height="69" fill="#54ffff"/>
<rect x="303" y="521" width="3" height="66" fill="#54ffff"/>
<rect x="308" y="529" width="3" height="58" fill="#54ffff"/>
<rect x="312" y="530" width="3" height="57" fill="#54ffff"/>
<rect x="317" y="522" width="3" height="65" fill="#54ffff"/>
<rect x="322" y="518" width="3" height="69" fill="#ff5454"/>
<rect x="323" y="519" width="1" height="68" fill="#000"/>
<rect x="327" y="521" width="3" height="66" fill="#54ffff"/>
<rect x="332" y="531" width="3" height="56" fill="#54ffff"/>
<rect x="336" y="531" width="3" height="56" fill="#ff5454"/>
<rect x="337" y="532" width="1" height="55" fill="#000"/>
<rect x="341" y="531" width="3" height="56" fill="#ff5454"/>
<rect x="342" y="532" width="1" height="55" fill="#000"/>
<rect x="346" y="527" width="3" height="60" fill="#54ffff"/>
<rect x="351" y="522" width="3" height="65" fill="#ff5454"/>
<rect x="352" y="523" width="1" height="64" fill="#000"/>
<rect x="356" y="525" width="3" height="62" fill="#ff5454"/>
<rect x="357" y="526" width="1" height="61" fill="#000"/>
<rect x="360" y="520" width="3" height="67" fill="#ff5454"/>
<rect x="361" y="521" width="1" height="66" fill="#000"/>
<rect x="365" y="531" width="3" height="56" fill="#54ffff"/>
<rect x="370" y="519" width="3" height="68" fill="#54ffff"/>
<rect x="375" y="522" width="3" height="65" fill="#54ffff"/>
<rect x="380" y="525" width="3" height="62" fill="#ff5454"/>
<rect x="381" y="526" width="1" height="61" fill="#000"/>
<rect x="384" y="533" width="3" height="54" fill="#ff5454"/>
<rect x="385" y="534" width="1" height="53" fill="#000"/>
<rect x="389" y="515" width="3" height="72" fill="#ff5454"/>
<rect x="390" y="516" width="1" height="71" fill="#000"/>
<rect x="394" y="514" width="3" height="73" fill="#54ffff"/>
<rect x="399" y="508" width="3" height="79" fill="#54ffff"/>
<rect x="404" y="519" width="3" height="68" fill="#ff5454"/>
<rect x="405" y="520" width="1" height="67" fill="#000"/>
<rect x="408" y="515" width="3" height="72" fill="#54ffff"/>
<rect x="413" y="512" width="3" height="75" fill="#54ffff"/>
<rect x="418" y="510" width="3" height="77" fill="#ff5454"/>
<rect x="419" y="511" width="1" height="76" fill="#000"/>
<rect x="423" y="511" width="3" height="76" fill="#54ffff"/>
<rect x="428" y="510" width="3" height="77" fill="#54ffff"/>
<rect x="432" y="523" width="3" height="64" fill="#54ffff"/>
<rect x="437" y="516" width="3" height="71" fill="#54ffff"/>
<rect x="442" y="522" width="3" height="65" fill="#54ffff"/>
<rect x="447" y="512" width="3" height="75" fill="#ff5454"/>
<rect x="448" y="513" width="1" height="74" fill="#000"/>
<rect x="452" y="517" width="3" height="70" fill="#ff5454"/>
<rect x="453" y="518" width="1" height="69" fill="#000"/>
<rect x="456" y="514" width="3" height="73" fill="#54ffff"/>
<rect x="461" y="512" width="3" height="75" fill="#ff5454"/>
<rect x="462" y="513" width="1" height="74" fill="#000"/>
<rect x="466" y="520" width="3" height="67" fill="#ff5454"/>
<rect x="467" y="521" width="1" height="66" fill="#000"/>
<rect x="471" y="517" width="3" height="70" fill="#ff5454"/>
<rect x="472" y="518" width="1" height="69" fill="#000"/>
<rect x="476" y="535" width="3" height="52" fill="#ff5454"/>
<rect x="477" y="536" width="1" height="51" fill="#000"/>
<rect x="480" y="515" width="3" height="72" fill="#ff5454"/>
<rect x="481" y="516" width="1" height="71" fill="#000"/>
<rect x="485" y="518" width="3" height="69" fill="#54ffff"/>
<rect x="490" y="520" width="3" height="67" fill="#54ffff"/>
<rect x="495" y="518" width="3" height="69" fill="#54ffff"/>
<rect x="500" y="508" width="3" height="79" fill="#ff5454"/>
<rect x="501" y="509" width="1" height="78" fill="#000"/>
<rect x="504" y="509" width="3" height="78" fill="#54ffff"/>
<rect x="509" y="514" width="3" height="73" fill="#ff5454"/>
<rect x="510" y="515" width="1" height="72" fill="#000"/>
<rect x="514" y="513" width="3" height="74" fill="#ff5454"/>
<rect x="515" y="514" width="1" height="73" fill="#000"/>
<rect x="519" y="521" width="3" height="66" fill="#54ffff"/>
<rect x="524" y="518" width="3" height="69" fill="#ff5454"/>
<rect x="525" y="519" width="1" height="68" fill="#000"/>
<rect x="528" y="525" width="3" height="62" fill="#ff5454"/>
<rect x="529" y="526" width="1" height="61" fill="#000"/>
<rect x="533" y="503" width="3" height="84" fill="#ff5454"/>
<rect x="534" y="504" width="1" height="83" fill="#000"/>
<rect x="538" y="510" width="3" height="77" fill="#ff5454"/>
<rect x="539" y="511" width="1" height="76" fill="#000"/>
<rect x="543" y="518" width="3" height="69" fill="#54ffff"/>
<rect x="548" y="513" width="3" height="74" fill="#54ffff"/>
<rect x="552" y="516" width="3" height="71" fill="#54ffff"/>
<rect x="557" y="516" width="3" height="71" fill="#ff5454"/>
<rect x="558" y="517" width="1" height="70" fill="#000"/>
<rect x="562" y="511" width="3" height="76" fill="#54ffff"/>
<rect x="567" y="511" width="3" height="76" fill="#ff5454"/>
<rect x="568" y="512" width="1" height="75" fill="#000"/>
<rect x="572" y="525" width="3" height="62" fill="#54ffff"/>
<rect x="576" y="515" width="3" height="72" fill="#54ffff"/>
<rect x="581" y="516" width="3" height="71" fill="#54ffff"/>
<rect x="586" y="519" width="3" height="68" fill="#54ffff"/>
<rect x="591" y="523" width="3" height="64" fill="#ff5454"/>
<rect x="592" y="524" width="1" height="63" fill="#000"/>
<rect x="596" y="524" width="3" height="63" fill="#ff5454"/>
<rect x="597" y="525" width="1" height="62" fill="#000"/>
<rect x="600" y="518" width="3" height="69" fill="#54ffff"/>
<rect x="605" y="521" width="3" height="66" fill="#ff5454"/>
<rect x="606" y="522" width="1" height="65" fill="#000"/>
<rect x="610" y="520" width="3" height="67" fill="#ff5454"/>
<rect x="611" y="521" width="1" height="66" fill="#000"/>
<rect x="615" y="522" width="3" height="65" fill="#54ffff"/>
<rect x="619" y="534" width="3" height="53" fill="#ff5454"/>
<rect x="620" y="535" width="1" height="52" fill="#000"/>
<rect x="624" y="528" width="3" height="59" fill="#ff5454"/>
<rect x="625" y="529" width="1" height="58" fill="#000"/>
<rect x="629" y="527" width="3" height="60" fill="#ff5454"/>
<rect x="630" y="528" width="1" height="59" fill="#000"/>
<rect x="634" y="533" width="3" height="54" fill="#54ffff"/>
<rect x="639" y="531" width="3" height="56" fill="#ff5454"/>
<rect x="640" y="532" width="1" height="55" fill="#000"/>
<rect x="644" y="532" width="3" height="55" fill="#ff5454"/>
<rect x="645" y="533" width="1" height="54" fill="#000"/>
<rect x="648" y="531" width="3" height="56" fill="#ff5454"/>
<rect x="649" y="532" width="1" height="55" fill="#000"/>
<rect x="653" y="533" width="3" height="54" fill="#54ffff"/>
<rect x="658" y="531" width="3" height="56" fill="#54ffff"/>
<rect x="663" y="524" width="3" height="63" fill="#ff5454"/>
<rect x="664" y="525" width="1" height="62" fill="#000"/>
<rect x="668" y="530" width="3" height="57" fill="#ff5454"/>
<rect x="669" y="531" width="1" height="56" fill="#000"/>
<rect x="672" y="519" width="3" height="68" fill="#ff5454"/>
<rect x="673" y="520" width="1" height="67" fill="#000"/>
<rect x="677" y="515" width="3" height="72" fill="#ff5454"/>
<rect x="678" y="516" width="1" height="71" fill="#000"/>
<rect x="682" y="515" width="3" height="72" fill="#54ffff"/>
<rect x="687" y="524" width="3" height="63" fill="#ff5454"/>
<rect x="688" y="525" width="1" height="62" fill="#000"/>
<rect x="692" y="521" width="3" height="66" fill="#54ffff"/>
<rect x="696" y="526" width="3" height="61" fill="#ff5454"/>
<rect x="697" y="527" width="1" height="60" fill="#000"/>
<rect x="701" y="479" width="3" height="108" fill="#ff5454"/>
<rect x="702" y="480" width="1" height="107" fill="#000"/>
<rect x="706" y="491" width="3" height="96" fill="#ff5454"/>
<rect x="707" y="492" width="1" height="95" fill="#000"/>
<rect x="711" y="488" width="3" height="99" fill="#54ffff"/>
<rect x="716" y="493" width="3" height="94" fill="#54ffff"/>
<rect x="720" y="519" width="3" height="68" fill="#ff5454"/>
<rect x="721" y="520" width="1" height="67" fill="#000"/>
<rect x="725" y="513" width="3" height="74" fill="#54ffff"/>
<rect x="730" y="512" width="3" height="75" fill="#54ffff"/>
<rect x="735" y="507" width="3" height="80" fill="#54ffff"/>
<rect x="740" y="521" width="3" height="66" fill="#54ffff"/>
<rect x="744" y="509" width="3" height="78" fill="#ff5454"/>
<rect x="745" y="510" width="1" height="77" fill="#000"/>
<rect x="749" y="518" width="3" height="69" fill="#54ffff"/>
<rect x="754" y="532" width="3" height="55" fill="#54ffff"/>
<rect x="759" y="520" width="3" height="67" fill="#ff5454"/>
<rect x="760" y="521" width="1" height="66" fill="#000"/>
<rect x="764" y="510" width="3" height="77" fill="#ff5454"/>
<rect x="765" y="511" width="1" height="76" fill="#000"/>
<rect x="768" y="520" width="3" height="67" fill="#ff5454"/>
<rect x="769" y="521" width="1" height="66" fill="#000"/>
<rect x="773" y="512" width="3" height="75" fill="#54ffff"/>
<rect x="778" y="510" width="3" height="77" fill="#ff5454"/>
<rect x="779" y="511" width="1" height="76" fill="#000"/>
<rect x="783" y="515" width="3" height="72" fill="#ff5454"/>
<rect x="784" y="516" width="1" height="71" fill="#000"/>
<rect x="788" y="504" width="3" height="83" fill="#54ffff"/>
<rect x="792" y="521" width="3" height="66" fill="#54ffff"/>
<rect x="797" y="529" width="3" height="58" fill="#ff5454"/>
<rect x="798" y="530" width="1" height="57" fill="#000"/>
<rect x="802" y="522" width="3" height="65" fill="#54ffff"/>
<rect x="807" y="526" width="3" height="61" fill="#54ffff"/>
<rect x="812" y="521" width="3" height="66" fill="#ff5454"/>
<rect x="813" y="522" width="1" height="65" fill="#000"/>
<rect x="816" y="524" width="3" height="63" fill="#54ffff"/>
<rect x="821" y="521" width="3" height="66" fill="#54ffff"/>
<rect x="826" y="504" width="3" height="83" fill="#54ffff"/>
<rect x="831" y="525" width="3" height="62" fill="#ff5454"/>
<rect x="832" y="526" width="1" height="61" fill="#000"/>
<rect x="836" y="529" width="3" height="58" fill="#54ffff"/>
<rect x="840" y="523" width="3" height="64" fill="#ff5454"/>
<rect x="841" y="524" width="1" height="63" fill="#000"/>
<rect x="845" y="529" width="3" height="58" fill="#54ffff"/>
<rect x="850" y="532" width="3" height="55" fill="#54ffff"/>
<rect x="855" y="549" width="3" height="38" fill="#54ffff"/>
<rect x="864" y="547" width="3" height="40" fill="#ff5454"/>
<rect x="865" y="548" width="1" height="39" fill="#000"/>
<rect x="869" y="543" width="3" height="44" fill="#ff5454"/>
<rect x="870" y="544" width="1" height="43" fill="#000"/>
<rect x="874" y="530" width="3" height="57" fill="#ff5454"/>
<rect x="875" y="531" width="1" height="56" fill="#000"/>
<rect x="879" y="531" width="3" height="56" fill="#54ffff"/>
<rect x="888" y="520" width="3" height="67" fill="#ff5454"/>
<rect x="889" y="521" width="1" height="66" fill="#000"/>
<rect x="893" y="511" width="3" height="76" fill="#ff5454"/>
<rect x="894" y="512" width="1" height="75" fill="#000"/>
<rect x="898" y="501" width="3" height="86" fill="#ff5454"/>
<rect x="899" y="502" width="1" height="85" fill="#000"/>
<rect x="903" y="513" width="3" height="74" fill="#54ffff"/>
<rect x="908" y="522" width="3" height="65" fill="#ff5454"/>
<rect x="909" y="523" width="1" height="64" fill="#000"/>
<rect x="912" y="513" width="3" height="74" fill="#ff5454"/>
<rect x="913" y="514" width="1" height="73" fill="#000"/>
<rect x="917" y="509" width="3" height="78" fill="#54ffff"/>
<rect x="922" y="509" width="3" height="78" fill="#ff5454"/>
<rect x="923" y="510" width="1" height="77" fill="#000"/>
<rect x="927" y="515" width="3" height="72" fill="#ff5454"/>
<rect x="928" y="516" width="1" height="71" fill="#000"/>
<rect x="932" y="535" width="3" height="52" fill="#ff5454"/>
<rect x="933" y="536" width="1" height="51" fill="#000"/>
<rect x="936" y="512" width="3" height="75" fill="#ff5454"/>
<rect x="937" y="513" width="1" height="74" fill="#000"/>
<rect x="941" y="518" width="3" height="69" fill="#54ffff"/>
<rect x="946" y="508" width="3" height="79" fill="#54ffff"/>
<rect x="951" y="510" width="3" height="77" fill="#ff5454"/>
<rect x="952" y="511" width="1" height="76" fill="#000"/>
<rect x="956" y="519" width="3" height="68" fill="#ff5454"/>
<rect x="957" y="520" width="1" height="67" fill="#000"/>
<rect x="960" y="523" width="3" height="64" fill="#54ffff"/>
<rect x="965" y="521" width="3" height="66" fill="#54ffff"/>
<rect x="970" y="521" width="3" height="66" fill="#54ffff"/>
<rect x="975" y="521" width="3" height="66" fill="#ff5454"/>
<rect x="976" y="522" width="1" height="65" fill="#000"/>
<rect x="980" y="525" width="3" height="62" fill="#54ffff"/>
<rect x="984" y="532" width="3" height="55" fill="#ff5454"/>
<rect x="985" y="533" width="1" height="54" fill="#000"/>
<rect x="989" y="515" width="3" height="72" fill="#54ffff"/>
<rect x="994" y="521" width="3" height="66" fill="#54ffff"/>
<rect x="999" y="521" width="3" height="66" fill="#ff5454"/>
<rect x="1000" y="522" width="1" height="65" fill="#000"/>
<rect x="1004" y="517" width="3" height="70" fill="#ff5454"/>
<rect x="1005" y="518" width="1" height="69" fill="#000"/>
<rect x="1008" y="516" width="3" height="71" fill="#54ffff"/>
<rect x="1013" y="515" width="3" height="72" fill="#ff5454"/>
<rect x="1014" y="516" width="1" height="71" fill="#000"/>
<rect x="1018" y="520" width="3" height="67" fill="#54ffff"/>
<rect x="1023" y="516" width="3" height="71" fill="#ff5454"/>
<rect x="1024" y="517" width="1" height="70" fill="#000"/>
<rect x="1028" y="523" width="3" height="64" fill="#54ffff"/>
<rect x="1032" y="520" width="3" height="67" fill="#ff5454"/>
<rect x="1033" y="521" width="1" height="66" fill="#000"/>
<rect x="1037" y="521" width="3" height="66" fill="#ff5454"/>
<rect x="1038" y="522" width="1" height="65" fill="#000"/>
<rect x="1042" y="516" width="3" height="71" fill="#ff5454"/>
<rect x="1043" y="517" width="1" height="70" fill="#000"/>
<rect x="1047" y="521" width="3" height="66" fill="#54ffff"/>
<rect x="1052" y="547" width="3" height="40" fill="#ff5454"/>
<rect x="1053" y="548" width="1" height="39" fill="#000"/>
<rect x="1056" y="528" width="3" height="59" fill="#54ffff"/>
<rect x="1061" y="510" width="3" height="77" fill="#ff5454"/>
<rect x="1062" y="511" width="1" height="76" fill="#000"/>
<rect x="1066" y="509" width="3" height="78" fill="#ff5454"/>
<rect x="1067" y="510" width="1" height="77" fill="#000"/>
<rect x="1071" y="507" width="3" height="80" fill="#ff5454"/>
<rect x="1072" y="508" width="1" height="79" fill="#000"/>
<rect x="1076" y="551" width="3" height="36" fill="#54ffff"/>
<rect x="1080" y="522" width="3" height="65" fill="#ff5454"/>
<rect x="1081" y="523" width="1" height="64" fill="#000"/>
<rect x="1085" y="496" width="3" height="91" fill="#ff5454"/>
<rect x="1086" y="497" width="1" height="90" fill="#000"/>
<rect x="1090" y="509" width="3" height="78" fill="#54ffff"/>
<rect x="1095" y="503" width="3" height="84" fill="#ff5454"/>
<rect x="1096" y="504" width="1" height="83" fill="#000"/>
<rect x="1100" y="579" width="3" height="8" fill="#54ffff"/>
</g>
<g shape-rendering="crispEdges">
<polyline points="16.0,523.5 21.0,522.3 25.0,521.8 30.0,521.5 35.0,520.4 40.0,519.6 45.0,518.6 49.0,518.0 54.0,517.1 59.0,516.1 64.0,514.8 69.0,514.4 73.0,513.9 78.0,513.7 83.0,513.4 88.0,512.9 93.0,513.1 97.0,512.9 102.0,512.9 107.0,512.6 112.0,513.1 117.0,514.0 121.0,514.2 126.0,513.9 131.0,514.5 136.0,514.8 141.0,515.3 145.0,515.4 150.0,514.5 155.0,515.2 160.0,516.2 165.0,516.6 170.0,517.6 174.0,517.9 179.0,518.3 184.0,519.0 189.0,518.9 194.0,520.0 198.0,521.3 203.0,521.4 208.0,522.5 213.0,522.8 218.0,523.3 222.0,523.9 227.0,524.5 232.0,523.8 237.0,523.8 242.0,524.2 246.0,526.1 251.0,526.3 256.0,526.2 261.0,526.2 266.0,525.0 270.0,524.6 275.0,524.5 280.0,524.3 285.0,524.0 290.0,522.9 294.0,521.8 299.0,522.1 304.0,521.6 309.0,521.5 313.0,521.5 318.0,521.0 323.0,520.3 328.0,521.1 333.0,521.5 337.0,521.7 342.0,521.7 347.0,521.5 352.0,521.6 357.0,521.7 361.0,522.4 366.0,523.3 371.0,523.1 376.0,523.1 381.0,523.9 385.0,524.8 390.0,524.6 395.0,524.5 400.0,523.8 405.0,523.3 409.0,522.5 414.0,522.0 419.0,521.6 424.0,521.1 429.0,520.1 433.0,519.7 438.0,518.9 443.0,518.7 448.0,518.2 453.0,517.8 457.0,517.5 462.0,516.5 467.0,516.6 472.0,516.4 477.0,516.8 481.0,515.9 486.0,516.1 491.0,516.4 496.0,516.9 501.0,516.3 505.0,516.0 510.0,516.1 515.0,516.3 520.0,516.8 525.0,517.2 529.0,517.3 534.0,516.6 539.0,516.0 544.0,516.4 549.0,516.2 553.0,516.3 558.0,516.5 563.0,516.1 568.0,515.8 573.0,515.2 577.0,515.2 582.0,515.1 587.0,515.1 592.0,515.3 597.0,516.1 601.0,516.6 606.0,516.9 611.0,517.3 616.0,517.4 620.0,518.1 625.0,518.3 630.0,519.5 635.0,520.6 640.0,521.3 645.0,522.2 649.0,522.9 654.0,523.7 659.0,524.7 664.0,525.4 669.0,525.6 673.0,525.9 678.0,525.8 683.0,525.6 688.0,525.7 693.0,525.5 697.0,526.0 702.0,523.8 707.0,522.4 712.0,520.7 717.0,518.6 721.0,518.1 726.0,517.4 731.0,516.4 736.0,515.2 741.0,514.7 745.0,513.6 750.0,512.8 755.0,512.8 760.0,512.6 765.0,511.6 769.0,511.7 774.0,511.5 779.0,511.3 784.0,510.8 789.0,510.0 793.0,509.7 798.0,512.2 803.0,513.8 808.0,515.7 813.0,517.1 817.0,517.3 822.0,517.7 827.0,517.3 832.0,518.3 837.0,518.7 841.0,519.4 846.0,519.9 851.0,519.9 856.0,521.4 860.0,525.2 865.0,526.6 870.0,528.2 875.0,529.2 880.0,530.0 884.0,534.1 889.0,534.1 894.0,533.2 899.0,532.2 904.0,531.5 909.0,531.6 913.0,531.0 918.0,530.4 923.0,530.7 928.0,530.2 933.0,530.5 937.0,529.9 942.0,529.3 947.0,528.1 952.0,526.2 957.0,522.8 961.0,521.6 966.0,520.4 971.0,520.0 976.0,519.5 981.0,516.4 985.0,517.0 990.0,517.1 995.0,518.1 1000.0,518.5 1005.0,518.3 1009.0,518.4 1014.0,518.7 1019.0,519.3 1024.0,519.4 1029.0,518.8 1033.0,519.2 1038.0,519.3 1043.0,519.7 1048.0,520.3 1053.0,521.7 1057.0,521.9 1062.0,521.4 1067.0,520.8 1072.0,520.1 1077.0,521.4 1081.0,520.9 1086.0,520.0 1091.0,519.4 1096.0,518.5 1101.0,521.6" fill="none" stroke="#00ff00" stroke-width="1"/>
<polyline points="16.0,517.1 21.0,515.6 25.0,515.3 30.0,515.6 35.0,514.2 40.0,513.5 45.0,512.8 49.0,513.0 54.0,512.7 59.0,512.2 64.0,512.6 69.0,513.2 73.0,512.6 78.0,511.7 83.0,512.5 88.0,512.3 93.0,513.4 97.0,512.8 102.0,513.1 107.0,513.0 112.0,513.6 117.0,514.7 121.0,515.8 126.0,516.0 131.0,516.5 136.0,517.2 141.0,517.3 145.0,518.1 150.0,515.9 155.0,517.5 160.0,518.8 165.0,518.6 170.0,519.5 174.0,519.7 179.0,520.1 184.0,520.7 189.0,520.5 194.0,522.0 198.0,526.8 203.0,525.3 208.0,526.2 213.0,527.0 218.0,527.0 222.0,528.1 227.0,528.9 232.0,526.8 237.0,527.2 242.0,526.5 246.0,525.5 251.0,527.4 256.0,526.2 261.0,525.5 266.0,523.0 270.0,521.2 275.0,520.2 280.0,521.8 285.0,520.8 290.0,519.4 294.0,518.1 299.0,516.9 304.0,517.0 309.0,517.6 313.0,520.0 318.0,520.8 323.0,520.4 328.0,520.4 333.0,522.3 337.0,524.0 342.0,525.2 347.0,526.2 352.0,526.2 357.0,525.8 361.0,524.9 366.0,525.8 371.0,525.9 376.0,525.9 381.0,525.4 385.0,525.6 390.0,524.0 395.0,522.8 400.0,521.4 405.0,520.7 409.0,520.2 414.0,518.3 419.0,517.4 424.0,516.3 429.0,514.8 433.0,513.7 438.0,513.8 443.0,514.6 448.0,515.0 453.0,514.9 457.0,514.8 462.0,514.8 467.0,515.8 472.0,516.4 477.0,518.9 481.0,518.1 486.0,518.3 491.0,518.1 496.0,518.7 501.0,517.8 505.0,517.3 510.0,517.5 515.0,516.8 520.0,517.1 525.0,515.5 529.0,516.5 534.0,515.0 539.0,514.0 544.0,514.0 549.0,514.5 553.0,515.3 558.0,515.5 563.0,515.3 568.0,514.4 573.0,515.0 577.0,514.0 582.0,515.2 587.0,516.1 592.0,516.6 597.0,517.7 601.0,517.9 606.0,518.3 611.0,519.3 616.0,520.4 620.0,521.2 625.0,522.6 630.0,523.7 635.0,525.1 640.0,525.9 645.0,526.7 649.0,528.0 654.0,529.2 659.0,530.2 664.0,530.4 669.0,530.0 673.0,529.1 678.0,528.0 683.0,526.2 688.0,525.5 693.0,524.4 697.0,523.9 702.0,518.5 707.0,514.5 712.0,510.9 717.0,507.2 721.0,507.2 726.0,506.9 731.0,506.6 736.0,504.9 741.0,504.9 745.0,503.2 750.0,507.1 755.0,511.2 760.0,514.4 765.0,516.1 769.0,516.2 774.0,516.1 779.0,515.9 784.0,516.7 789.0,515.0 793.0,516.2 798.0,517.4 803.0,516.4 808.0,517.0 813.0,518.0 817.0,518.5 822.0,519.4 827.0,518.8 832.0,519.8 837.0,522.3 841.0,522.5 846.0,522.5 851.0,523.5 856.0,525.8 860.0,532.5 865.0,534.7 870.0,537.0 875.0,539.6 880.0,540.1 884.0,546.0 889.0,545.7 894.0,543.9 899.0,540.9 904.0,537.3 909.0,530.7 913.0,527.3 918.0,523.9 923.0,521.7 928.0,520.2 933.0,514.9 937.0,514.1 942.0,514.8 947.0,515.4 952.0,515.1 957.0,514.8 961.0,515.8 966.0,517.0 971.0,518.2 976.0,518.8 981.0,517.8 985.0,519.8 990.0,519.5 995.0,520.8 1000.0,521.9 1005.0,521.7 1009.0,521.0 1014.0,520.5 1019.0,520.4 1024.0,519.9 1029.0,519.7 1033.0,518.5 1038.0,519.1 1043.0,518.6 1048.0,518.6 1053.0,521.6 1057.0,522.8 1062.0,522.3 1067.0,521.2 1072.0,520.3 1077.0,523.1 1081.0,523.4 1086.0,520.9 1091.0,520.2 1096.0,518.4 1101.0,521.6" fill="none" stroke="#ff00ff" stroke-width="1"/>
<polyline points="16.0,512.5 21.0,510.8 25.0,511.3 30.0,513.3 35.0,511.6 40.0,514.6 45.0,514.8 49.0,514.7 54.0,512.0 59.0,512.9 64.0,510.7 69.0,511.7 73.0,510.4 78.0,511.3 83.0,512.1 88.0,513.9 93.0,515.1 97.0,515.1 102.0,514.9 107.0,513.8 112.0,513.3 117.0,514.2 121.0,516.4 126.0,517.2 131.0,519.2 136.0,521.2 141.0,520.3 145.0,519.8 150.0,514.6 155.0,515.8 160.0,516.4 165.0,516.9 170.0,519.2 174.0,524.7 179.0,524.4 184.0,525.0 189.0,524.0 194.0,524.8 198.0,528.8 203.0,526.2 208.0,527.4 213.0,530.0 218.0,529.2 222.0,527.4 227.0,531.6 232.0,526.2 237.0,524.4 242.0,523.8 246.0,523.6 251.0,523.2 256.0,526.1 261.0,526.5 266.0,522.1 270.0,518.8 275.0,517.1 280.0,517.4 285.0,515.0 290.0,516.6 294.0,517.5 299.0,516.7 304.0,516.7 309.0,520.2 313.0,523.4 318.0,524.0 323.0,524.1 328.0,524.1 333.0,524.5 337.0,524.6 342.0,526.5 347.0,528.3 352.0,528.3 357.0,527.2 361.0,525.1 366.0,525.1 371.0,523.5 376.0,523.5 381.0,523.5 385.0,526.2 390.0,523.0 395.0,522.0 400.0,519.2 405.0,517.9 409.0,514.2 414.0,513.6 419.0,512.8 424.0,513.4 429.0,511.7 433.0,513.3 438.0,514.1 443.0,516.5 448.0,516.6 453.0,518.1 457.0,516.3 462.0,515.5 467.0,515.1 472.0,516.2 477.0,519.7 481.0,519.9 486.0,521.1 491.0,521.1 496.0,521.2 501.0,515.9 505.0,514.6 510.0,513.8 515.0,512.5 520.0,513.1 525.0,515.0 529.0,518.3 534.0,516.1 539.0,515.6 544.0,515.0 549.0,514.0 553.0,512.2 558.0,514.9 563.0,515.1 568.0,513.7 573.0,516.1 577.0,515.7 582.0,515.5 587.0,517.1 592.0,519.5 597.0,519.3 601.0,520.0 606.0,521.1 611.0,521.4 616.0,521.2 620.0,523.2 625.0,525.2 630.0,526.3 635.0,528.8 640.0,530.6 645.0,530.2 649.0,530.8 654.0,532.0 659.0,531.6 664.0,530.2 669.0,529.9 673.0,527.5 678.0,523.9 683.0,520.7 688.0,520.7 693.0,518.9 697.0,520.4 702.0,513.1 707.0,508.3 712.0,501.0 717.0,495.4 721.0,494.0 726.0,500.7 731.0,505.0 736.0,508.8 741.0,514.4 745.0,512.4 750.0,513.4 755.0,517.4 760.0,519.9 765.0,517.8 769.0,520.0 774.0,518.8 779.0,514.5 784.0,513.5 789.0,512.3 793.0,512.5 798.0,515.9 803.0,518.3 808.0,520.4 813.0,523.8 817.0,524.5 822.0,522.8 827.0,519.3 832.0,519.2 837.0,520.8 841.0,520.6 846.0,522.2 851.0,527.7 856.0,532.4 860.0,544.1 865.0,548.9 870.0,551.8 875.0,551.5 880.0,547.9 884.0,547.9 889.0,542.5 894.0,536.0 899.0,530.3 904.0,526.7 909.0,513.6 913.0,512.1 918.0,511.7 923.0,513.2 928.0,513.7 933.0,516.2 937.0,516.0 942.0,517.9 947.0,517.7 952.0,516.6 957.0,513.4 961.0,515.6 966.0,516.2 971.0,518.8 976.0,521.0 981.0,522.2 985.0,524.0 990.0,522.9 995.0,522.9 1000.0,522.9 1005.0,521.3 1009.0,518.0 1014.0,518.0 1019.0,517.9 1024.0,517.0 1029.0,518.1 1033.0,519.0 1038.0,520.1 1043.0,519.3 1048.0,520.2 1053.0,525.1 1057.0,526.7 1062.0,524.5 1067.0,523.2 1072.0,520.4 1077.0,521.2 1081.0,520.0 1086.0,517.2 1091.0,517.2 1096.0,516.4 1101.0,522.0" fill="none" stroke="#ffff00" stroke-width="1"/>
</g>
<svg x="13" y="607" width="1128" height="118" overflow="hidden"><g transform="translate(-13,-607)" shape-rendering="crispEdges">
<polyline points="16.0,647.3 21.0,648.1 25.0,647.9 30.0,645.6 35.0,644.0 40.0,641.5 45.0,638.6 49.0,645.9 54.0,649.4 59.0,650.5 64.0,651.0 69.0,649.1 73.0,659.8 78.0,658.6 83.0,654.3 88.0,663.1 93.0,661.6 97.0,660.4 102.0,659.5 107.0,665.5 112.0,671.8 117.0,671.4 121.0,673.7 126.0,676.4 131.0,674.7 136.0,674.1 141.0,676.0 145.0,679.3 150.0,680.4 155.0,678.7 160.0,671.6 165.0,670.4 170.0,671.6 174.0,662.3 179.0,658.8 184.0,658.1 189.0,657.4 194.0,657.6 198.0,655.2 203.0,662.4 208.0,658.7 213.0,658.8 218.0,661.7 222.0,663.1 227.0,662.4 232.0,656.4 237.0,656.5 242.0,656.0 246.0,650.2 251.0,645.9 256.0,638.1 261.0,635.1 266.0,641.5 270.0,640.7 275.0,646.9 280.0,643.1 285.0,644.2 290.0,644.8 294.0,643.7 299.0,644.3 304.0,645.3 309.0,648.1 313.0,650.7 318.0,658.7 323.0,655.2 328.0,656.9 333.0,658.0 337.0,657.5 342.0,651.2 347.0,653.9 352.0,652.6 357.0,651.4 361.0,650.1 366.0,653.4 371.0,654.3 376.0,663.1 381.0,663.0 385.0,661.8 390.0,658.6 395.0,661.1 400.0,664.3 405.0,663.2 409.0,663.8 414.0,665.5 419.0,664.7 424.0,670.8 429.0,675.6 433.0,676.8 438.0,679.4 443.0,680.0 448.0,677.7 453.0,676.0 457.0,678.3 462.0,676.7 467.0,674.1 472.0,666.8 477.0,665.9 481.0,659.9 486.0,663.3 491.0,665.7 496.0,672.5 501.0,672.0 505.0,674.8 510.0,673.6 515.0,672.1 520.0,675.7 525.0,670.7 529.0,670.3 534.0,663.3 539.0,663.0 544.0,665.2 549.0,668.1 553.0,671.9 558.0,671.2 563.0,672.3 568.0,671.6 573.0,676.1 577.0,686.0 582.0,686.7 587.0,690.0 592.0,687.1 597.0,685.8 601.0,687.4 606.0,685.8 611.0,685.8 616.0,686.8 620.0,686.3 625.0,683.8 630.0,682.8 635.0,684.2 640.0,684.2 645.0,683.9 649.0,680.5 654.0,682.2 659.0,682.0 664.0,680.0 669.0,677.1 673.0,670.0 678.0,668.6 683.0,669.9 688.0,669.0 693.0,672.7 697.0,670.1 702.0,668.4 707.0,666.3 712.0,682.6 717.0,687.1 721.0,685.0 726.0,685.8 731.0,688.6 736.0,689.6 741.0,689.5 745.0,688.0 750.0,690.7 755.0,691.5 760.0,687.4 765.0,686.0 769.0,685.5 774.0,686.7 779.0,686.5 784.0,682.8 789.0,682.8 793.0,683.3 798.0,676.2 803.0,676.9 808.0,678.7 813.0,675.8 817.0,677.3 822.0,679.3 827.0,689.8 832.0,687.7 837.0,688.9 841.0,686.9 846.0,688.7 851.0,690.1 856.0,690.6 860.0,691.0 865.0,685.9 870.0,684.8 875.0,681.6 880.0,685.3 884.0,685.2 889.0,677.9 894.0,675.3 899.0,672.8 904.0,674.5 909.0,672.8 913.0,669.0 918.0,670.4 923.0,669.4 928.0,668.5 933.0,667.6 937.0,662.6 942.0,664.7 947.0,666.5 952.0,664.5 957.0,662.5 961.0,663.9 966.0,666.9 971.0,671.2 976.0,665.5 981.0,666.0 985.0,658.9 990.0,659.5 995.0,660.6 1000.0,660.1 1005.0,657.2 1009.0,657.4 1014.0,656.7 1019.0,659.3 1024.0,654.7 1029.0,657.5 1033.0,656.0 1038.0,655.2 1043.0,654.0 1048.0,655.5 1053.0,654.9 1057.0,656.6 1062.0,655.9 1067.0,653.7 1072.0,650.5 1077.0,650.4 1081.0,652.4 1086.0,650.8 1091.0,667.4 1096.0,662.8 1101.0,664.9" fill="none" stroke="#ff00ff" stroke-width="1"/>
<polyline points="16.0,635.1 21.0,637.0 25.0,636.7 30.0,633.3 35.0,631.0 40.0,627.7 45.0,624.4 49.0,639.8 54.0,646.8 59.0,649.0 64.0,650.0 69.0,646.4 73.0,666.6 78.0,664.2 83.0,655.4 88.0,670.5 93.0,667.4 97.0,665.0 102.0,663.3 107.0,673.6 112.0,683.5 117.0,682.6 121.0,686.1 126.0,690.1 131.0,686.3 136.0,684.8 141.0,687.9 145.0,693.1 150.0,694.8 155.0,690.5 160.0,674.6 165.0,672.2 170.0,674.5 174.0,656.8 179.0,651.1 184.0,649.9 189.0,648.8 194.0,649.4 198.0,645.3 203.0,660.6 208.0,654.0 213.0,654.1 218.0,660.2 222.0,663.1 227.0,661.6 232.0,650.2 237.0,650.4 242.0,649.6 246.0,639.9 251.0,634.0 256.0,625.2 261.0,622.4 266.0,633.9 270.0,632.8 275.0,643.9 280.0,638.2 285.0,640.1 290.0,641.1 294.0,639.4 299.0,640.5 304.0,642.6 309.0,648.2 313.0,653.2 318.0,667.6 323.0,660.1 328.0,663.2 333.0,665.1 337.0,664.0 342.0,650.9 347.0,655.9 352.0,653.3 357.0,651.0 361.0,648.5 366.0,655.1 371.0,657.0 376.0,673.2 381.0,672.8 385.0,669.9 390.0,662.8 395.0,667.5 400.0,673.3 405.0,670.7 409.0,671.9 414.0,675.0 419.0,673.2 424.0,684.3 429.0,691.9 433.0,693.6 438.0,697.4 443.0,698.3 448.0,692.3 453.0,687.8 457.0,691.8 462.0,687.6 467.0,681.0 472.0,664.8 477.0,663.2 481.0,652.0 486.0,659.4 491.0,664.2 496.0,677.1 501.0,676.1 505.0,681.1 510.0,678.5 515.0,675.2 520.0,682.0 525.0,671.5 529.0,670.7 534.0,657.6 539.0,657.0 544.0,661.8 549.0,667.8 553.0,675.2 558.0,673.7 563.0,675.9 568.0,674.3 573.0,683.0 577.0,698.7 582.0,699.6 587.0,704.0 592.0,697.8 597.0,695.0 601.0,697.5 606.0,694.0 611.0,694.0 616.0,695.8 620.0,694.6 625.0,688.5 630.0,686.1 635.0,689.0 640.0,689.1 645.0,688.3 649.0,679.7 654.0,683.8 659.0,683.2 664.0,678.1 669.0,671.2 673.0,656.6 678.0,654.1 683.0,657.7 688.0,656.1 693.0,666.1 697.0,660.7 702.0,657.5 707.0,653.6 712.0,688.3 717.0,695.3 721.0,691.2 726.0,692.5 731.0,696.9 736.0,698.4 741.0,698.2 745.0,694.8 750.0,699.4 755.0,700.7 760.0,691.5 765.0,688.4 769.0,687.4 774.0,689.9 779.0,689.5 784.0,681.0 789.0,681.0 793.0,682.2 798.0,666.8 803.0,668.7 808.0,673.4 813.0,667.3 817.0,671.2 822.0,676.2 827.0,697.0 832.0,692.7 837.0,694.8 841.0,690.6 846.0,693.9 851.0,696.3 856.0,697.3 860.0,697.9 865.0,686.3 870.0,684.0 875.0,677.1 880.0,685.4 884.0,685.2 889.0,670.4 894.0,665.7 899.0,661.3 904.0,665.4 909.0,662.4 913.0,655.8 918.0,659.2 923.0,657.5 928.0,655.9 933.0,654.2 937.0,645.8 942.0,651.4 947.0,656.0 952.0,652.4 957.0,649.0 961.0,652.7 966.0,660.4 971.0,670.5 976.0,659.0 981.0,660.2 985.0,648.0 990.0,649.4 995.0,651.9 1000.0,651.1 1005.0,646.0 1009.0,646.5 1014.0,645.4 1019.0,652.0 1024.0,643.6 1029.0,650.3 1033.0,647.6 1038.0,646.1 1043.0,644.1 1048.0,647.9 1053.0,646.6 1057.0,651.0 1062.0,649.6 1067.0,645.1 1072.0,639.2 1077.0,639.0 1081.0,644.4 1086.0,641.3 1091.0,676.4 1096.0,666.8 1101.0,670.4" fill="none" stroke="#ffff00" stroke-width="1"/>
<polyline points="16.0,618.7 21.0,623.1 25.0,622.7 30.0,618.9 35.0,616.7 40.0,614.1 45.0,611.9 49.0,642.0 54.0,654.4 59.0,658.2 64.0,660.2 69.0,650.8 73.0,684.8 78.0,678.9 83.0,659.3 88.0,683.0 93.0,676.6 97.0,671.5 102.0,667.6 107.0,685.7 112.0,699.6 117.0,697.6 121.0,702.4 126.0,707.8 131.0,698.2 136.0,694.4 141.0,700.1 145.0,708.2 150.0,710.5 155.0,699.0 160.0,665.0 165.0,660.7 170.0,666.8 174.0,639.3 179.0,632.8 184.0,631.6 189.0,630.2 194.0,631.8 198.0,626.7 203.0,661.8 208.0,649.3 213.0,649.7 218.0,662.6 222.0,668.7 227.0,665.0 232.0,641.9 237.0,642.4 242.0,640.8 246.0,626.5 251.0,620.4 256.0,613.8 261.0,612.2 266.0,631.4 270.0,629.7 275.0,648.7 280.0,638.4 285.0,641.7 290.0,643.6 294.0,639.9 299.0,642.3 304.0,647.1 309.0,659.4 313.0,669.6 318.0,692.9 323.0,672.5 328.0,677.7 333.0,681.0 337.0,677.7 342.0,647.1 347.0,657.4 352.0,651.8 357.0,647.3 361.0,642.3 366.0,657.3 371.0,661.6 376.0,690.7 381.0,689.7 385.0,681.8 390.0,664.3 395.0,673.9 400.0,684.9 405.0,678.2 409.0,680.6 414.0,687.1 419.0,681.6 424.0,701.7 429.0,711.3 433.0,713.2 438.0,717.2 443.0,718.1 448.0,702.3 453.0,691.2 457.0,699.2 462.0,689.0 467.0,674.2 472.0,647.0 477.0,644.8 481.0,631.4 486.0,647.8 491.0,658.3 496.0,682.3 501.0,680.2 505.0,689.0 510.0,683.3 515.0,675.9 520.0,689.2 525.0,667.6 529.0,666.0 534.0,644.3 539.0,643.4 544.0,654.7 549.0,667.9 553.0,682.3 558.0,678.9 563.0,683.3 568.0,679.0 573.0,696.0 577.0,715.4 582.0,716.2 587.0,720.3 592.0,707.1 597.0,701.1 601.0,705.3 606.0,697.3 611.0,697.3 616.0,701.2 620.0,698.1 625.0,682.2 630.0,676.5 635.0,685.5 640.0,685.6 645.0,683.3 649.0,661.5 654.0,675.8 659.0,674.2 664.0,662.0 669.0,648.6 673.0,629.8 678.0,627.5 683.0,637.6 688.0,635.4 693.0,661.8 697.0,651.6 702.0,645.9 707.0,639.6 712.0,699.9 717.0,707.7 721.0,700.3 726.0,702.0 731.0,707.9 736.0,709.9 741.0,709.3 745.0,701.3 750.0,709.1 755.0,711.0 760.0,690.0 765.0,683.5 769.0,681.1 774.0,687.9 779.0,687.0 784.0,667.0 789.0,667.0 793.0,671.3 798.0,642.8 803.0,648.6 808.0,662.5 813.0,651.3 817.0,662.0 822.0,674.8 827.0,709.1 832.0,700.7 837.0,703.8 841.0,695.0 846.0,700.8 851.0,704.7 856.0,706.4 860.0,707.5 865.0,680.5 870.0,675.7 875.0,662.3 880.0,683.1 884.0,682.5 889.0,655.4 894.0,648.5 899.0,642.4 904.0,652.8 909.0,647.9 913.0,638.1 918.0,646.7 923.0,643.9 928.0,641.1 933.0,638.1 937.0,626.7 942.0,640.9 947.0,652.3 952.0,645.1 957.0,638.9 961.0,648.1 966.0,665.6 971.0,684.6 976.0,659.2 981.0,661.5 985.0,640.1 990.0,643.0 995.0,648.3 1000.0,646.6 1005.0,637.3 1009.0,638.7 1014.0,636.4 1019.0,653.2 1024.0,636.2 1029.0,650.7 1033.0,645.2 1038.0,642.2 1043.0,638.1 1048.0,647.3 1053.0,644.3 1057.0,655.3 1062.0,651.4 1067.0,640.3 1072.0,629.5 1077.0,629.1 1081.0,643.0 1086.0,636.3 1091.0,695.3 1096.0,675.9 1101.0,681.2" fill="none" stroke="#ffffff" stroke-width="1"/>
</g></svg>
<rect x="88" y="726" width="1" height="4" fill="#c80000"/>
<text x="84.25" y="742" fill="#00ffff" stroke="#00ffff" stroke-width="0.25" font-size="12.5" font-family="'Liberation Sans','Noto Sans CJK SC',sans-serif" textLength="6.5" lengthAdjust="spacingAndGlyphs">5</text>
<rect x="150" y="726" width="1" height="4" fill="#c80000"/>
<text x="146.25" y="742" fill="#00ffff" stroke="#00ffff" stroke-width="0.25" font-size="12.5" font-family="'Liberation Sans','Noto Sans CJK SC',sans-serif" textLength="6.5" lengthAdjust="spacingAndGlyphs">6</text>
<rect x="256" y="726" width="1" height="4" fill="#c80000"/>
<text x="252.25" y="742" fill="#00ffff" stroke="#00ffff" stroke-width="0.25" font-size="12.5" font-family="'Liberation Sans','Noto Sans CJK SC',sans-serif" textLength="6.5" lengthAdjust="spacingAndGlyphs">7</text>
<rect x="357" y="726" width="1" height="4" fill="#c80000"/>
<text x="353.25" y="742" fill="#00ffff" stroke="#00ffff" stroke-width="0.25" font-size="12.5" font-family="'Liberation Sans','Noto Sans CJK SC',sans-serif" textLength="6.5" lengthAdjust="spacingAndGlyphs">8</text>
<rect x="467" y="726" width="1" height="4" fill="#c80000"/>
<text x="463.25" y="742" fill="#00ffff" stroke="#00ffff" stroke-width="0.25" font-size="12.5" font-family="'Liberation Sans','Noto Sans CJK SC',sans-serif" textLength="6.5" lengthAdjust="spacingAndGlyphs">9</text>
<rect x="573" y="726" width="1" height="4" fill="#c80000"/>
<text x="566.0" y="742" fill="#00ffff" stroke="#00ffff" stroke-width="0.25" font-size="12.5" font-family="'Liberation Sans','Noto Sans CJK SC',sans-serif" textLength="13" lengthAdjust="spacingAndGlyphs">10</text>
<rect x="673" y="726" width="1" height="4" fill="#c80000"/>
<text x="666.0" y="742" fill="#00ffff" stroke="#00ffff" stroke-width="0.25" font-size="12.5" font-family="'Liberation Sans','Noto Sans CJK SC',sans-serif" textLength="13" lengthAdjust="spacingAndGlyphs">11</text>
<rect x="779" y="726" width="1" height="4" fill="#c80000"/>
<text x="772.0" y="742" fill="#00ffff" stroke="#00ffff" stroke-width="0.25" font-size="12.5" font-family="'Liberation Sans','Noto Sans CJK SC',sans-serif" textLength="13" lengthAdjust="spacingAndGlyphs">12</text>
<rect x="885" y="726" width="1" height="4" fill="#c80000"/>
<text x="871.0" y="742" fill="#ff5050" stroke="#ff5050" stroke-width="0.25" font-size="12.5" font-family="'Liberation Sans','Noto Sans CJK SC',sans-serif" textLength="27" lengthAdjust="spacingAndGlyphs">2017</text>
<rect x="990" y="726" width="1" height="4" fill="#c80000"/>
<text x="986.25" y="742" fill="#00ffff" stroke="#00ffff" stroke-width="0.25" font-size="12.5" font-family="'Liberation Sans','Noto Sans CJK SC',sans-serif" textLength="6.5" lengthAdjust="spacingAndGlyphs">2</text>
<rect x="1086" y="726" width="1" height="4" fill="#c80000"/>
<text x="1082.25" y="742" fill="#00ffff" stroke="#00ffff" stroke-width="0.25" font-size="12.5" font-family="'Liberation Sans','Noto Sans CJK SC',sans-serif" textLength="6.5" lengthAdjust="spacingAndGlyphs">3</text>
<text x="15.5" y="742" fill="#ff5050" stroke="#ff5050" stroke-width="0.25" font-size="12.5" font-family="'Liberation Sans','Noto Sans CJK SC',sans-serif" textLength="27.5" lengthAdjust="spacingAndGlyphs">2016</text>
<text x="15.1" y="32" fill="#d8d8d8" stroke="#d8d8d8" stroke-width="0.25" font-size="12.5" font-family="'Liberation Sans','Noto Sans CJK SC',sans-serif" textLength="47.6" lengthAdjust="spacingAndGlyphs">现货白银</text>
<text x="68.3" y="32" fill="#d8d8d8" stroke="#d8d8d8" stroke-width="0.25" font-size="12.5" font-family="'Liberation Sans','Noto Sans CJK SC',sans-serif" textLength="22.2" lengthAdjust="spacingAndGlyphs">日线</text>
<text x="95.3" y="32" fill="#d8d8d8" stroke="#d8d8d8" stroke-width="0.25" font-size="12.5" font-family="'Liberation Sans','Noto Sans CJK SC',sans-serif" textLength="11.8" lengthAdjust="spacingAndGlyphs">下</text>
<text x="113.4" y="32" fill="#d8d8d8" stroke="#d8d8d8" stroke-width="0.25" font-size="12.5" font-family="'Liberation Sans','Noto Sans CJK SC',sans-serif" textLength="55.6" lengthAdjust="spacingAndGlyphs">20170306</text>
<text x="173" y="32" fill="#d8d8d8" stroke="#d8d8d8" stroke-width="0.25" font-size="12.5" font-family="'Liberation Sans','Noto Sans CJK SC',sans-serif" textLength="24.6" lengthAdjust="spacingAndGlyphs">周一</text>
<text x="200.9" y="32" fill="#d8d8d8" stroke="#d8d8d8" stroke-width="0.25" font-size="12.5" font-family="'Liberation Sans','Noto Sans CJK SC',sans-serif" textLength="11.8" lengthAdjust="spacingAndGlyphs">开</text>
<text x="213.9" y="32" fill="#00ffff" stroke="#00ffff" stroke-width="0.25" font-size="12.5" font-family="'Liberation Sans','Noto Sans CJK SC',sans-serif" textLength="36.8" lengthAdjust="spacingAndGlyphs">17.938</text>
<text x="255.5" y="32" fill="#d8d8d8" stroke="#d8d8d8" stroke-width="0.25" font-size="12.5" font-family="'Liberation Sans','Noto Sans CJK SC',sans-serif" textLength="11.8" lengthAdjust="spacingAndGlyphs">高</text>
<text x="268.5" y="32" fill="#ff5050" stroke="#ff5050" stroke-width="0.25" font-size="12.5" font-family="'Liberation Sans','Noto Sans CJK SC',sans-serif" textLength="36.8" lengthAdjust="spacingAndGlyphs">17.958</text>
<text x="309.5" y="32" fill="#d8d8d8" stroke="#d8d8d8" stroke-width="0.25" font-size="12.5" font-family="'Liberation Sans','Noto Sans CJK SC',sans-serif" textLength="11.8" lengthAdjust="spacingAndGlyphs">低</text>
<text x="322" y="32" fill="#00ffff" stroke="#00ffff" stroke-width="0.25" font-size="12.5" font-family="'Liberation Sans','Noto Sans CJK SC',sans-serif" textLength="36.2" lengthAdjust="spacingAndGlyphs">17.815</text>
<text x="363.1" y="32" fill="#d8d8d8" stroke="#d8d8d8" stroke-width="0.25" font-size="12.5" font-family="'Liberation Sans','Noto Sans CJK SC',sans-serif" textLength="11.8" lengthAdjust="spacingAndGlyphs">收</text>
<text x="375.3" y="32" fill="#00ffff" stroke="#00ffff" stroke-width="0.25" font-size="12.5" font-family="'Liberation Sans','Noto Sans CJK SC',sans-serif" textLength="37" lengthAdjust="spacingAndGlyphs">17.864</text>
<text x="417.3" y="32" fill="#d8d8d8" stroke="#d8d8d8" stroke-width="0.25" font-size="12.5" font-family="'Liberation Sans','Noto Sans CJK SC',sans-serif" textLength="11.8" lengthAdjust="spacingAndGlyphs">涨</text>
<text x="433.9" y="32" fill="#00ffff" stroke="#00ffff" stroke-width="0.25" font-size="12.5" font-family="'Liberation Sans','Noto Sans CJK SC',sans-serif" textLength="34.6" lengthAdjust="spacingAndGlyphs">-0.084</text>
<text x="473.4" y="32" fill="#00ffff" stroke="#00ffff" stroke-width="0.25" font-size="12.5" font-family="'Liberation Sans','Noto Sans CJK SC',sans-serif" textLength="39" lengthAdjust="spacingAndGlyphs">-0.47%</text>
<text x="517" y="32" fill="#d8d8d8" stroke="#d8d8d8" stroke-width="0.25" font-size="12.5" font-family="'Liberation Sans','Noto Sans CJK SC',sans-serif" textLength="11.8" lengthAdjust="spacingAndGlyphs">量</text>
<text x="529.6" y="32" fill="#d8d8d8" stroke="#d8d8d8" stroke-width="0.25" font-size="12.5" font-family="'Liberation Sans','Noto Sans CJK SC',sans-serif" textLength="27.3" lengthAdjust="spacingAndGlyphs">6254</text>
<text x="561" y="32" fill="#d8d8d8" stroke="#d8d8d8" stroke-width="0.25" font-size="12.5" font-family="'Liberation Sans','Noto Sans CJK SC',sans-serif" textLength="11.8" lengthAdjust="spacingAndGlyphs">额</text>
<text x="573.6" y="32" fill="#d8d8d8" stroke="#d8d8d8" stroke-width="0.25" font-size="12.5" font-family="'Liberation Sans','Noto Sans CJK SC',sans-serif" textLength="41.6" lengthAdjust="spacingAndGlyphs">111828</text>
<text x="619.3" y="32" fill="#d8d8d8" stroke="#d8d8d8" stroke-width="0.25" font-size="12.5" font-family="'Liberation Sans','Noto Sans CJK SC',sans-serif" textLength="27.5" lengthAdjust="spacingAndGlyphs">7036</text>
<text x="13.7" y="51" fill="#d8d8d8" stroke="#d8d8d8" stroke-width="0.25" font-size="12.5" font-family="'Liberation Sans','Noto Sans CJK SC',sans-serif" textLength="30.3" lengthAdjust="spacingAndGlyphs">K线图</text>
<g shape-rendering="crispEdges" fill="none" stroke="#cfcfcf" stroke-width="1"><rect x="50.5" y="42.5" width="8" height="8"/><line x1="52" y1="46.5" x2="57" y2="46.5"/></g>
<text x="60.7" y="51" fill="#d8d8d8" stroke="#d8d8d8" stroke-width="0.25" font-size="12.5" font-family="'Liberation Sans','Noto Sans CJK SC',sans-serif" textLength="60" lengthAdjust="spacingAndGlyphs">移动平均线</text>
<g shape-rendering="crispEdges" fill="none" stroke="#cfcfcf" stroke-width="1"><rect x="126.5" y="42.5" width="8" height="8"/><line x1="128" y1="46.5" x2="133" y2="46.5"/></g>
<text x="137.7" y="51" fill="#d8d8d8" stroke="#d8d8d8" stroke-width="0.25" font-size="12.5" font-family="'Liberation Sans','Noto Sans CJK SC',sans-serif" textLength="112.7" lengthAdjust="spacingAndGlyphs">(5,10,22,66,135,270)</text>
<text x="256.5" y="51" fill="#ffffff" stroke="#ffffff" stroke-width="0.25" font-size="12.5" font-family="'Liberation Sans','Noto Sans CJK SC',sans-serif" textLength="60.3" lengthAdjust="spacingAndGlyphs">MA1:18.03</text>
<text x="323.2" y="51" fill="#ffff00" stroke="#ffff00" stroke-width="0.25" font-size="12.5" font-family="'Liberation Sans','Noto Sans CJK SC',sans-serif" textLength="59.4" lengthAdjust="spacingAndGlyphs">MA2:18.09</text>
<text x="389" y="51" fill="#ff00ff" stroke="#ff00ff" stroke-width="0.25" font-size="12.5" font-family="'Liberation Sans','Noto Sans CJK SC',sans-serif" textLength="59.5" lengthAdjust="spacingAndGlyphs">MA3:17.95</text>
<text x="454.7" y="51" fill="#00ff00" stroke="#00ff00" stroke-width="0.25" font-size="12.5" font-family="'Liberation Sans','Noto Sans CJK SC',sans-serif" textLength="59.8" lengthAdjust="spacingAndGlyphs">MA4:17.06</text>
<text x="520.1" y="51" fill="#0000ff" stroke="#0000ff" stroke-width="0.25" font-size="12.5" font-family="'Liberation Sans','Noto Sans CJK SC',sans-serif" textLength="60" lengthAdjust="spacingAndGlyphs">MA5:17.57</text>
<text x="586.5" y="51" fill="#808080" stroke="#808080" stroke-width="0.25" font-size="12.5" font-family="'Liberation Sans','Noto Sans CJK SC',sans-serif" textLength="60.3" lengthAdjust="spacingAndGlyphs">MA6:17.49</text>
<text x="13" y="464" fill="#d8d8d8" stroke="#d8d8d8" stroke-width="0.25" font-size="12.5" font-family="'Liberation Sans','Noto Sans CJK SC',sans-serif" textLength="36.2" lengthAdjust="spacingAndGlyphs">成交量</text>
<g shape-rendering="crispEdges" fill="none" stroke="#cfcfcf" stroke-width="1"><rect x="54.5" y="455.5" width="8" height="8"/><line x1="56" y1="459.5" x2="61" y2="459.5"/></g>
<text x="65.7" y="464" fill="#d8d8d8" stroke="#d8d8d8" stroke-width="0.25" font-size="12.5" font-family="'Liberation Sans','Noto Sans CJK SC',sans-serif" textLength="47" lengthAdjust="spacingAndGlyphs">(5,10,20)</text>
<text x="119" y="464" fill="#ffffff" stroke="#ffffff" stroke-width="0.25" font-size="12.5" font-family="'Liberation Sans','Noto Sans CJK SC',sans-serif" textLength="30.9" lengthAdjust="spacingAndGlyphs">:6254</text>
<text x="155.9" y="464" fill="#ffff00" stroke="#ffff00" stroke-width="0.25" font-size="12.5" font-family="'Liberation Sans','Noto Sans CJK SC',sans-serif" textLength="73.9" lengthAdjust="spacingAndGlyphs">MA1:48366.8</text>
<text x="236.1" y="464" fill="#ff00ff" stroke="#ff00ff" stroke-width="0.25" font-size="12.5" font-family="'Liberation Sans','Noto Sans CJK SC',sans-serif" textLength="73.3" lengthAdjust="spacingAndGlyphs">MA2:48493.2</text>
<text x="315.8" y="464" fill="#00ff00" stroke="#00ff00" stroke-width="0.25" font-size="12.5" font-family="'Liberation Sans','Noto Sans CJK SC',sans-serif" textLength="73.9" lengthAdjust="spacingAndGlyphs">MA3:48324.9</text>
<text x="13.8" y="601.5" fill="#d8d8d8" stroke="#d8d8d8" stroke-width="0.25" font-size="12.5" font-family="'Liberation Sans','Noto Sans CJK SC',sans-serif" textLength="71.2" lengthAdjust="spacingAndGlyphs">相对强弱指标</text>
<text x="85.6" y="601.5" fill="#d8d8d8" stroke="#d8d8d8" stroke-width="0.25" font-size="12.5" font-family="'Liberation Sans','Noto Sans CJK SC',sans-serif" textLength="132.4" lengthAdjust="spacingAndGlyphs">(Relative Strenth Index)</text>
<g shape-rendering="crispEdges" fill="none" stroke="#cfcfcf" stroke-width="1"><rect x="224.5" y="592.5" width="8" height="8"/><line x1="226" y1="596.5" x2="231" y2="596.5"/></g>
<text x="235.2" y="601.5" fill="#d8d8d8" stroke="#d8d8d8" stroke-width="0.25" font-size="12.5" font-family="'Liberation Sans','Noto Sans CJK SC',sans-serif" textLength="47.6" lengthAdjust="spacingAndGlyphs">(6,12,24)</text>
<text x="289.7" y="601.5" fill="#ffffff" stroke="#ffffff" stroke-width="0.25" font-size="12.5" font-family="'Liberation Sans','Noto Sans CJK SC',sans-serif" textLength="59" lengthAdjust="spacingAndGlyphs">RSI1:41.85</text>
<text x="354.3" y="601.5" fill="#ffff00" stroke="#ffff00" stroke-width="0.25" font-size="12.5" font-family="'Liberation Sans','Noto Sans CJK SC',sans-serif" textLength="59.5" lengthAdjust="spacingAndGlyphs">RSI2:50.25</text>
<text x="419.6" y="601.5" fill="#ff00ff" stroke="#ff00ff" stroke-width="0.25" font-size="12.5" font-family="'Liberation Sans','Noto Sans CJK SC',sans-serif" textLength="59.3" lengthAdjust="spacingAndGlyphs">RSI3:54.44</text>
<text x="7.8" y="711.5" fill="#bcbcbc" stroke="#bcbcbc" stroke-width="0.25" font-size="17" font-family="'Noto Serif CJK SC','Liberation Serif',serif" textLength="143.5" lengthAdjust="spacingAndGlyphs">第一纸白银分析网</text>
<text x="10.5" y="732" fill="#bcbcbc" stroke="#bcbcbc" stroke-width="0.25" font-size="15" font-family="'Liberation Mono',monospace" textLength="136.5" lengthAdjust="spacingAndGlyphs">www.diyizby.com</text></svg>
</body></html>
